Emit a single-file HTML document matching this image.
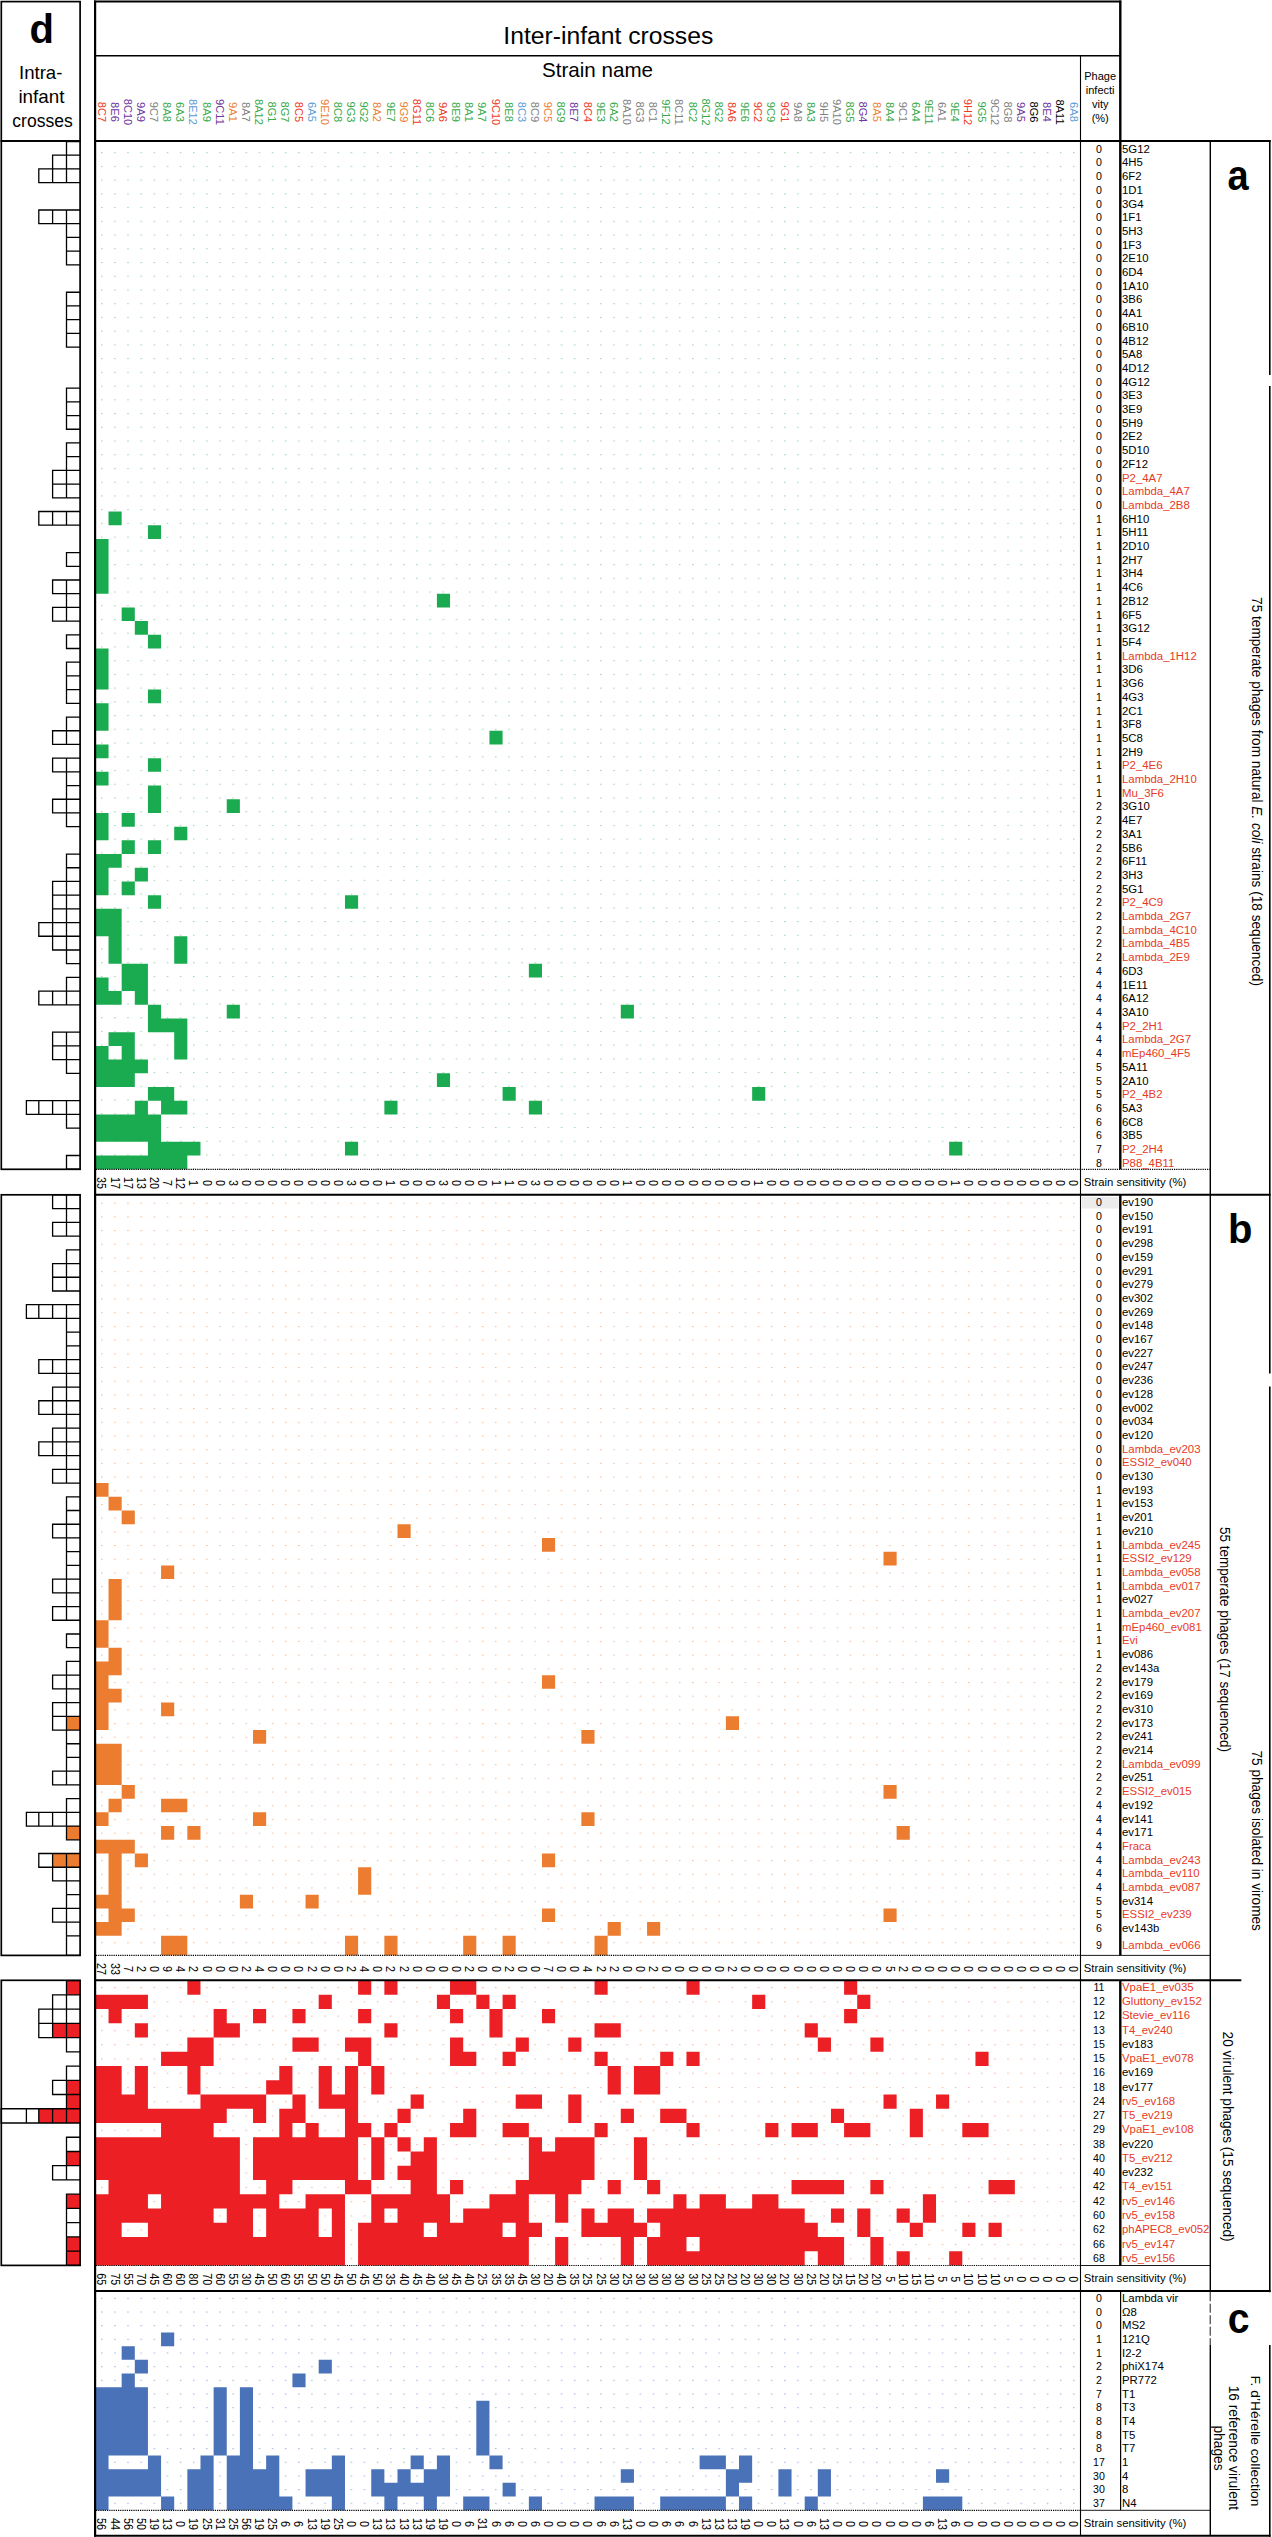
<!DOCTYPE html>
<html><head><meta charset="utf-8"><title>Phage-bacteria interaction matrix</title>
<style>
html,body{margin:0;padding:0;background:#fff}
body{width:1272px;height:2537px;overflow:hidden}
svg{display:block}
text{font-family:"Liberation Sans",sans-serif;fill:#000}
.l{font-size:10.6px}
.r{fill:#e73a24}
.n{font-size:10.6px;text-anchor:middle}
.h{font-size:11.6px;text-anchor:middle}
.s{font-size:12px;text-anchor:middle}
.v{font-size:15px;text-anchor:middle}
.B{font-size:40px;font-weight:bold;text-anchor:middle}
.k{stroke:#000;fill:none}
</style></head><body>
<svg width="1272" height="2537" viewBox="0 0 1272 2537">
<rect width="1272" height="2537" fill="#fff"/>
<defs>
<pattern id="pa" patternUnits="userSpaceOnUse" x="95.4" y="152.15" width="13.135" height="13.730"><rect x="5.87" y="0" width="1.1" height="1.1" fill="#7cc787"/></pattern>
<pattern id="pb" patternUnits="userSpaceOnUse" x="95.4" y="1202.65" width="13.135" height="13.695"><rect x="5.87" y="0" width="1.1" height="1.1" fill="#f2a36e"/></pattern>
<pattern id="pr" patternUnits="userSpaceOnUse" x="95.4" y="1987.05" width="13.135" height="14.270"><rect x="5.87" y="0" width="1.1" height="1.1" fill="#f29b78"/></pattern>
<pattern id="pc" patternUnits="userSpaceOnUse" x="95.4" y="2297.85" width="13.135" height="13.660"><rect x="5.87" y="0" width="1.1" height="1.1" fill="#7f9ddb"/></pattern>
</defs>
<rect x="95.4" y="141.5" width="985.13" height="1027.72" fill="url(#pa)"/>
<path fill="#1aab50" d="M108.54 511.48H121.67V525.18H108.54ZM147.94 525.18H161.07V538.89H147.94ZM95.4 538.89H108.54V552.59H95.4ZM95.4 552.59H108.54V566.29H95.4ZM95.4 566.29H108.54V580H95.4ZM95.4 580H108.54V593.7H95.4ZM436.91 593.7H450.04V607.4H436.91ZM121.67 607.4H134.81V621.11H121.67ZM134.81 621.11H147.94V634.81H134.81ZM147.94 634.81H161.07V648.51H147.94ZM95.4 648.51H108.54V662.21H95.4ZM95.4 662.21H108.54V675.92H95.4ZM95.4 675.92H108.54V689.62H95.4ZM147.94 689.62H161.07V703.32H147.94ZM95.4 703.32H108.54V717.03H95.4ZM95.4 717.03H108.54V730.73H95.4ZM489.45 730.73H502.59V744.43H489.45ZM95.4 744.43H108.54V758.13H95.4ZM147.94 758.13H161.07V771.84H147.94ZM95.4 771.84H108.54V785.54H95.4ZM147.94 785.54H161.07V799.24H147.94ZM147.94 799.24H161.07V812.95H147.94ZM226.75 799.24H239.88V812.95H226.75ZM95.4 812.95H108.54V826.65H95.4ZM121.67 812.95H134.81V826.65H121.67ZM95.4 826.65H108.54V840.35H95.4ZM174.21 826.65H187.34V840.35H174.21ZM121.67 840.35H134.81V854.06H121.67ZM147.94 840.35H161.07V854.06H147.94ZM95.4 854.06H121.67V867.76H95.4ZM95.4 867.76H108.54V881.46H95.4ZM134.81 867.76H147.94V881.46H134.81ZM95.4 881.46H108.54V895.16H95.4ZM121.67 881.46H134.81V895.16H121.67ZM147.94 895.16H161.07V908.87H147.94ZM344.97 895.16H358.1V908.87H344.97ZM95.4 908.87H121.67V922.57H95.4ZM95.4 922.57H121.67V936.27H95.4ZM108.54 936.27H121.67V949.98H108.54ZM174.21 936.27H187.34V949.98H174.21ZM108.54 949.98H121.67V963.68H108.54ZM174.21 949.98H187.34V963.68H174.21ZM121.67 963.68H147.94V977.38H121.67ZM528.86 963.68H541.99V977.38H528.86ZM95.4 977.38H108.54V991.09H95.4ZM121.67 977.38H147.94V991.09H121.67ZM95.4 991.09H121.67V1004.79H95.4ZM134.81 991.09H147.94V1004.79H134.81ZM147.94 1004.79H161.07V1018.49H147.94ZM226.75 1004.79H239.88V1018.49H226.75ZM620.8 1004.79H633.93V1018.49H620.8ZM147.94 1018.49H187.34V1032.19H147.94ZM108.54 1032.19H134.81V1045.9H108.54ZM174.21 1032.19H187.34V1045.9H174.21ZM95.4 1045.9H108.54V1059.6H95.4ZM121.67 1045.9H134.81V1059.6H121.67ZM174.21 1045.9H187.34V1059.6H174.21ZM95.4 1059.6H147.94V1073.3H95.4ZM95.4 1073.3H134.81V1087.01H95.4ZM436.91 1073.3H450.04V1087.01H436.91ZM147.94 1087.01H174.21V1100.71H147.94ZM502.59 1087.01H515.72V1100.71H502.59ZM752.15 1087.01H765.28V1100.71H752.15ZM134.81 1100.71H147.94V1114.41H134.81ZM161.07 1100.71H187.34V1114.41H161.07ZM384.37 1100.71H397.5V1114.41H384.37ZM528.86 1100.71H541.99V1114.41H528.86ZM95.4 1114.41H161.07V1128.12H95.4ZM95.4 1128.12H161.07V1141.82H95.4ZM147.94 1141.82H200.48V1155.52H147.94ZM344.97 1141.82H358.1V1155.52H344.97ZM949.17 1141.82H962.31V1155.52H949.17ZM95.4 1155.52H187.34V1169.22H95.4Z"/>
<rect x="95.4" y="1194.95" width="985.13" height="760.35" fill="url(#pb)"/>
<path fill="#ec7c30" d="M95.4 1483.07H108.54V1496.79H95.4ZM108.54 1496.79H121.67V1510.51H108.54ZM121.67 1510.51H134.81V1524.23H121.67ZM397.5 1524.23H410.64V1537.95H397.5ZM541.99 1537.95H555.12V1551.67H541.99ZM883.5 1551.67H896.63V1565.39H883.5ZM161.07 1565.39H174.21V1579.11H161.07ZM108.54 1579.11H121.67V1592.83H108.54ZM108.54 1592.83H121.67V1606.55H108.54ZM108.54 1606.55H121.67V1620.27H108.54ZM95.4 1620.27H108.54V1633.99H95.4ZM95.4 1633.99H108.54V1647.71H95.4ZM108.54 1647.71H121.67V1661.43H108.54ZM95.4 1661.43H121.67V1675.15H95.4ZM95.4 1675.15H108.54V1688.87H95.4ZM541.99 1675.15H555.12V1688.87H541.99ZM95.4 1688.87H121.67V1702.59H95.4ZM95.4 1702.59H108.54V1716.31H95.4ZM161.07 1702.59H174.21V1716.31H161.07ZM95.4 1716.31H108.54V1730.03H95.4ZM725.88 1716.31H739.01V1730.03H725.88ZM253.02 1730.03H266.15V1743.75H253.02ZM581.39 1730.03H594.53V1743.75H581.39ZM95.4 1743.75H121.67V1757.47H95.4ZM95.4 1757.47H121.67V1771.19H95.4ZM95.4 1771.19H121.67V1784.91H95.4ZM121.67 1784.91H134.81V1798.63H121.67ZM883.5 1784.91H896.63V1798.63H883.5ZM108.54 1798.63H121.67V1812.35H108.54ZM161.07 1798.63H187.34V1812.35H161.07ZM95.4 1812.35H108.54V1826.07H95.4ZM253.02 1812.35H266.15V1826.07H253.02ZM581.39 1812.35H594.53V1826.07H581.39ZM161.07 1826.07H174.21V1839.79H161.07ZM187.34 1826.07H200.48V1839.79H187.34ZM896.63 1826.07H909.77V1839.79H896.63ZM95.4 1839.79H134.81V1853.51H95.4ZM108.54 1853.51H121.67V1867.23H108.54ZM134.81 1853.51H147.94V1867.23H134.81ZM541.99 1853.51H555.12V1867.23H541.99ZM108.54 1867.23H121.67V1880.95H108.54ZM358.1 1867.23H371.24V1880.95H358.1ZM108.54 1880.95H121.67V1894.67H108.54ZM358.1 1880.95H371.24V1894.67H358.1ZM95.4 1894.67H121.67V1908.39H95.4ZM239.88 1894.67H253.02V1908.39H239.88ZM305.56 1894.67H318.69V1908.39H305.56ZM108.54 1908.39H134.81V1922.11H108.54ZM541.99 1908.39H555.12V1922.11H541.99ZM883.5 1908.39H896.63V1922.11H883.5ZM95.4 1922.11H121.67V1935.83H95.4ZM607.66 1922.11H620.8V1935.83H607.66ZM647.07 1922.11H660.2V1935.83H647.07ZM161.07 1935.83H187.34V1955.3H161.07ZM344.97 1935.83H358.1V1955.3H344.97ZM384.37 1935.83H397.5V1955.3H384.37ZM463.18 1935.83H476.32V1955.3H463.18ZM502.59 1935.83H515.72V1955.3H502.59ZM594.53 1935.83H607.66V1955.3H594.53Z"/>
<rect x="95.4" y="1980.6" width="985.13" height="284.8" fill="url(#pr)"/>
<path fill="#ec2024" d="M187.34 1980.6H200.48V1994.84H187.34ZM358.1 1980.6H371.24V1994.84H358.1ZM384.37 1980.6H397.5V1994.84H384.37ZM450.04 1980.6H476.32V1994.84H450.04ZM594.53 1980.6H607.66V1994.84H594.53ZM686.48 1980.6H699.61V1994.84H686.48ZM844.09 1980.6H857.23V1994.84H844.09ZM95.4 1994.84H147.94V2009.08H95.4ZM318.69 1994.84H331.83V2009.08H318.69ZM436.91 1994.84H450.04V2009.08H436.91ZM476.32 1994.84H489.45V2009.08H476.32ZM502.59 1994.84H515.72V2009.08H502.59ZM752.15 1994.84H765.28V2009.08H752.15ZM857.23 1994.84H870.37V2009.08H857.23ZM108.54 2009.08H121.67V2023.32H108.54ZM213.62 2009.08H226.75V2023.32H213.62ZM253.02 2009.08H266.15V2023.32H253.02ZM292.43 2009.08H305.56V2023.32H292.43ZM358.1 2009.08H371.24V2023.32H358.1ZM450.04 2009.08H463.18V2023.32H450.04ZM489.45 2009.08H502.59V2023.32H489.45ZM541.99 2009.08H555.12V2023.32H541.99ZM844.09 2009.08H857.23V2023.32H844.09ZM134.81 2023.32H147.94V2037.56H134.81ZM213.62 2023.32H239.88V2037.56H213.62ZM384.37 2023.32H397.5V2037.56H384.37ZM489.45 2023.32H502.59V2037.56H489.45ZM594.53 2023.32H620.8V2037.56H594.53ZM804.69 2023.32H817.82V2037.56H804.69ZM187.34 2037.56H213.62V2051.8H187.34ZM292.43 2037.56H318.69V2051.8H292.43ZM344.97 2037.56H371.24V2051.8H344.97ZM450.04 2037.56H463.18V2051.8H450.04ZM515.72 2037.56H528.86V2051.8H515.72ZM568.26 2037.56H581.39V2051.8H568.26ZM817.82 2037.56H830.96V2051.8H817.82ZM870.37 2037.56H883.5V2051.8H870.37ZM161.07 2051.8H213.62V2066.04H161.07ZM358.1 2051.8H371.24V2066.04H358.1ZM450.04 2051.8H476.32V2066.04H450.04ZM502.59 2051.8H515.72V2066.04H502.59ZM594.53 2051.8H607.66V2066.04H594.53ZM660.2 2051.8H673.34V2066.04H660.2ZM686.48 2051.8H699.61V2066.04H686.48ZM975.44 2051.8H988.58V2066.04H975.44ZM95.4 2066.04H121.67V2080.28H95.4ZM134.81 2066.04H147.94V2080.28H134.81ZM187.34 2066.04H200.48V2080.28H187.34ZM279.29 2066.04H292.43V2080.28H279.29ZM318.69 2066.04H331.83V2080.28H318.69ZM344.97 2066.04H358.1V2080.28H344.97ZM371.24 2066.04H384.37V2080.28H371.24ZM607.66 2066.04H620.8V2080.28H607.66ZM633.93 2066.04H660.2V2080.28H633.93ZM95.4 2080.28H121.67V2094.52H95.4ZM134.81 2080.28H147.94V2094.52H134.81ZM187.34 2080.28H200.48V2094.52H187.34ZM266.15 2080.28H292.43V2094.52H266.15ZM318.69 2080.28H331.83V2094.52H318.69ZM344.97 2080.28H358.1V2094.52H344.97ZM371.24 2080.28H384.37V2094.52H371.24ZM607.66 2080.28H620.8V2094.52H607.66ZM633.93 2080.28H660.2V2094.52H633.93ZM95.4 2094.52H147.94V2108.76H95.4ZM200.48 2094.52H266.15V2108.76H200.48ZM292.43 2094.52H305.56V2108.76H292.43ZM318.69 2094.52H358.1V2108.76H318.69ZM410.64 2094.52H423.77V2108.76H410.64ZM515.72 2094.52H541.99V2108.76H515.72ZM568.26 2094.52H581.39V2108.76H568.26ZM883.5 2094.52H896.63V2108.76H883.5ZM936.04 2094.52H949.17V2108.76H936.04ZM95.4 2108.76H226.75V2123H95.4ZM253.02 2108.76H266.15V2123H253.02ZM279.29 2108.76H305.56V2123H279.29ZM344.97 2108.76H358.1V2123H344.97ZM397.5 2108.76H410.64V2123H397.5ZM463.18 2108.76H476.32V2123H463.18ZM568.26 2108.76H581.39V2123H568.26ZM620.8 2108.76H633.93V2123H620.8ZM660.2 2108.76H686.48V2123H660.2ZM830.96 2108.76H844.09V2123H830.96ZM909.77 2108.76H922.9V2123H909.77ZM161.07 2123H213.62V2137.24H161.07ZM279.29 2123H292.43V2137.24H279.29ZM305.56 2123H318.69V2137.24H305.56ZM344.97 2123H371.24V2137.24H344.97ZM384.37 2123H397.5V2137.24H384.37ZM450.04 2123H476.32V2137.24H450.04ZM502.59 2123H528.86V2137.24H502.59ZM594.53 2123H607.66V2137.24H594.53ZM686.48 2123H699.61V2137.24H686.48ZM765.28 2123H778.42V2137.24H765.28ZM791.55 2123H817.82V2137.24H791.55ZM844.09 2123H870.37V2137.24H844.09ZM909.77 2123H922.9V2137.24H909.77ZM962.31 2123H988.58V2137.24H962.31ZM95.4 2137.24H239.88V2151.48H95.4ZM253.02 2137.24H358.1V2151.48H253.02ZM371.24 2137.24H384.37V2151.48H371.24ZM397.5 2137.24H410.64V2151.48H397.5ZM423.77 2137.24H436.91V2151.48H423.77ZM528.86 2137.24H541.99V2151.48H528.86ZM555.12 2137.24H594.53V2151.48H555.12ZM633.93 2137.24H647.07V2151.48H633.93ZM95.4 2151.48H239.88V2165.72H95.4ZM253.02 2151.48H358.1V2165.72H253.02ZM371.24 2151.48H384.37V2165.72H371.24ZM410.64 2151.48H436.91V2165.72H410.64ZM528.86 2151.48H594.53V2165.72H528.86ZM633.93 2151.48H647.07V2165.72H633.93ZM95.4 2165.72H239.88V2179.96H95.4ZM253.02 2165.72H358.1V2179.96H253.02ZM371.24 2165.72H384.37V2179.96H371.24ZM397.5 2165.72H436.91V2179.96H397.5ZM528.86 2165.72H594.53V2179.96H528.86ZM633.93 2165.72H647.07V2179.96H633.93ZM108.54 2179.96H239.88V2194.2H108.54ZM266.15 2179.96H292.43V2194.2H266.15ZM344.97 2179.96H371.24V2194.2H344.97ZM410.64 2179.96H436.91V2194.2H410.64ZM450.04 2179.96H463.18V2194.2H450.04ZM515.72 2179.96H581.39V2194.2H515.72ZM607.66 2179.96H620.8V2194.2H607.66ZM647.07 2179.96H660.2V2194.2H647.07ZM791.55 2179.96H844.09V2194.2H791.55ZM870.37 2179.96H883.5V2194.2H870.37ZM988.58 2179.96H1014.85V2194.2H988.58ZM95.4 2194.2H147.94V2208.44H95.4ZM161.07 2194.2H279.29V2208.44H161.07ZM305.56 2194.2H344.97V2208.44H305.56ZM371.24 2194.2H450.04V2208.44H371.24ZM489.45 2194.2H528.86V2208.44H489.45ZM555.12 2194.2H568.26V2208.44H555.12ZM673.34 2194.2H686.48V2208.44H673.34ZM699.61 2194.2H725.88V2208.44H699.61ZM752.15 2194.2H778.42V2208.44H752.15ZM922.9 2194.2H936.04V2208.44H922.9ZM95.4 2208.44H213.62V2222.68H95.4ZM226.75 2208.44H253.02V2222.68H226.75ZM266.15 2208.44H318.69V2222.68H266.15ZM331.83 2208.44H344.97V2222.68H331.83ZM371.24 2208.44H384.37V2222.68H371.24ZM397.5 2208.44H450.04V2222.68H397.5ZM463.18 2208.44H528.86V2222.68H463.18ZM555.12 2208.44H568.26V2222.68H555.12ZM581.39 2208.44H594.53V2222.68H581.39ZM607.66 2208.44H633.93V2222.68H607.66ZM647.07 2208.44H804.69V2222.68H647.07ZM830.96 2208.44H844.09V2222.68H830.96ZM857.23 2208.44H870.37V2222.68H857.23ZM896.63 2208.44H909.77V2222.68H896.63ZM922.9 2208.44H936.04V2222.68H922.9ZM95.4 2222.68H121.67V2236.92H95.4ZM147.94 2222.68H253.02V2236.92H147.94ZM266.15 2222.68H318.69V2236.92H266.15ZM331.83 2222.68H344.97V2236.92H331.83ZM358.1 2222.68H423.77V2236.92H358.1ZM436.91 2222.68H502.59V2236.92H436.91ZM515.72 2222.68H541.99V2236.92H515.72ZM581.39 2222.68H647.07V2236.92H581.39ZM660.2 2222.68H817.82V2236.92H660.2ZM857.23 2222.68H870.37V2236.92H857.23ZM909.77 2222.68H922.9V2236.92H909.77ZM962.31 2222.68H975.44V2236.92H962.31ZM988.58 2222.68H1001.71V2236.92H988.58ZM95.4 2236.92H344.97V2251.16H95.4ZM358.1 2236.92H528.86V2251.16H358.1ZM555.12 2236.92H568.26V2251.16H555.12ZM620.8 2236.92H633.93V2251.16H620.8ZM647.07 2236.92H686.48V2251.16H647.07ZM699.61 2236.92H844.09V2251.16H699.61ZM870.37 2236.92H883.5V2251.16H870.37ZM95.4 2251.16H344.97V2265.4H95.4ZM358.1 2251.16H528.86V2265.4H358.1ZM555.12 2251.16H568.26V2265.4H555.12ZM620.8 2251.16H633.93V2265.4H620.8ZM647.07 2251.16H804.69V2265.4H647.07ZM817.82 2251.16H844.09V2265.4H817.82ZM870.37 2251.16H883.5V2265.4H870.37ZM896.63 2251.16H909.77V2265.4H896.63ZM949.17 2251.16H962.31V2265.4H949.17Z"/>
<rect x="95.4" y="2291.5" width="985.13" height="218.64" fill="url(#pc)"/>
<path fill="#4a72b8" d="M161.07 2332.49H174.21V2346.16H161.07ZM121.67 2346.16H134.81V2359.82H121.67ZM134.81 2359.82H147.94V2373.49H134.81ZM318.69 2359.82H331.83V2373.49H318.69ZM121.67 2373.49H134.81V2387.16H121.67ZM292.43 2373.49H305.56V2387.16H292.43ZM95.4 2387.16H147.94V2400.82H95.4ZM213.62 2387.16H226.75V2400.82H213.62ZM239.88 2387.16H253.02V2400.82H239.88ZM95.4 2400.82H147.94V2414.49H95.4ZM213.62 2400.82H226.75V2414.49H213.62ZM239.88 2400.82H253.02V2414.49H239.88ZM476.32 2400.82H489.45V2414.49H476.32ZM95.4 2414.49H147.94V2428.15H95.4ZM213.62 2414.49H226.75V2428.15H213.62ZM239.88 2414.49H253.02V2428.15H239.88ZM476.32 2414.49H489.45V2428.15H476.32ZM95.4 2428.15H147.94V2441.82H95.4ZM213.62 2428.15H226.75V2441.82H213.62ZM239.88 2428.15H253.02V2441.82H239.88ZM476.32 2428.15H489.45V2441.82H476.32ZM95.4 2441.82H147.94V2455.48H95.4ZM213.62 2441.82H226.75V2455.48H213.62ZM239.88 2441.82H253.02V2455.48H239.88ZM476.32 2441.82H489.45V2455.48H476.32ZM95.4 2455.48H108.54V2469.14H95.4ZM147.94 2455.48H161.07V2469.14H147.94ZM200.48 2455.48H213.62V2469.14H200.48ZM226.75 2455.48H253.02V2469.14H226.75ZM266.15 2455.48H279.29V2469.14H266.15ZM331.83 2455.48H344.97V2469.14H331.83ZM410.64 2455.48H423.77V2469.14H410.64ZM436.91 2455.48H450.04V2469.14H436.91ZM489.45 2455.48H502.59V2469.14H489.45ZM699.61 2455.48H725.88V2469.14H699.61ZM739.01 2455.48H752.15V2469.14H739.01ZM95.4 2469.14H161.07V2482.81H95.4ZM187.34 2469.14H213.62V2482.81H187.34ZM226.75 2469.14H279.29V2482.81H226.75ZM305.56 2469.14H344.97V2482.81H305.56ZM371.24 2469.14H384.37V2482.81H371.24ZM397.5 2469.14H410.64V2482.81H397.5ZM423.77 2469.14H450.04V2482.81H423.77ZM620.8 2469.14H633.93V2482.81H620.8ZM725.88 2469.14H752.15V2482.81H725.88ZM778.42 2469.14H791.55V2482.81H778.42ZM817.82 2469.14H830.96V2482.81H817.82ZM936.04 2469.14H949.17V2482.81H936.04ZM95.4 2482.81H161.07V2496.47H95.4ZM187.34 2482.81H213.62V2496.47H187.34ZM226.75 2482.81H279.29V2496.47H226.75ZM305.56 2482.81H344.97V2496.47H305.56ZM371.24 2482.81H450.04V2496.47H371.24ZM502.59 2482.81H515.72V2496.47H502.59ZM725.88 2482.81H739.01V2496.47H725.88ZM778.42 2482.81H791.55V2496.47H778.42ZM817.82 2482.81H830.96V2496.47H817.82ZM95.4 2496.47H108.54V2510.14H95.4ZM161.07 2496.47H174.21V2510.14H161.07ZM187.34 2496.47H213.62V2510.14H187.34ZM226.75 2496.47H292.43V2510.14H226.75ZM331.83 2496.47H344.97V2510.14H331.83ZM384.37 2496.47H397.5V2510.14H384.37ZM423.77 2496.47H436.91V2510.14H423.77ZM463.18 2496.47H489.45V2510.14H463.18ZM528.86 2496.47H541.99V2510.14H528.86ZM594.53 2496.47H633.93V2510.14H594.53ZM660.2 2496.47H725.88V2510.14H660.2ZM739.01 2496.47H752.15V2510.14H739.01ZM804.69 2496.47H817.82V2510.14H804.69ZM922.9 2496.47H962.31V2510.14H922.9Z"/>
<path class="k" stroke-width="1.3" d="M80.1 141.5H66.5V155.2H80.1M80.1 155.2H52.6V168.91H80.1M66.5 155.2V168.91M80.1 168.91H38.8V182.61H80.1M66.5 168.91V182.61M52.6 168.91V182.61M80.1 210.01H38.8V223.72H80.1M66.5 210.01V223.72M52.6 210.01V223.72M80.1 223.72H66.5V237.42H80.1M80.1 237.42H66.5V251.12H80.1M80.1 251.12H66.5V264.83H80.1M80.1 292.23H66.5V305.94H80.1M80.1 305.94H66.5V319.64H80.1M80.1 319.64H66.5V333.34H80.1M80.1 333.34H66.5V347.04H80.1M80.1 388.15H66.5V401.86H80.1M80.1 401.86H66.5V415.56H80.1M80.1 415.56H66.5V429.26H80.1M80.1 442.97H66.5V456.67H80.1M80.1 456.67H66.5V470.37H80.1M80.1 470.37H52.6V484.07H80.1M66.5 470.37V484.07M80.1 484.07H52.6V497.78H80.1M66.5 484.07V497.78M80.1 511.48H38.8V525.18H80.1M66.5 511.48V525.18M52.6 511.48V525.18M80.1 552.59H66.5V566.29H80.1M80.1 580H52.6V593.7H80.1M66.5 580V593.7M80.1 593.7H66.5V607.4H80.1M80.1 607.4H52.6V621.11H80.1M66.5 607.4V621.11M80.1 634.81H66.5V648.51H80.1M80.1 662.21H66.5V675.92H80.1M80.1 675.92H66.5V689.62H80.1M80.1 689.62H66.5V703.32H80.1M80.1 717.03H66.5V730.73H80.1M80.1 730.73H52.6V744.43H80.1M66.5 730.73V744.43M80.1 758.13H52.6V771.84H80.1M66.5 758.13V771.84M80.1 771.84H66.5V785.54H80.1M80.1 785.54H66.5V799.24H80.1M80.1 799.24H52.6V812.95H80.1M66.5 799.24V812.95M80.1 812.95H66.5V826.65H80.1M80.1 854.06H66.5V867.76H80.1M80.1 867.76H66.5V881.46H80.1M80.1 881.46H52.6V895.16H80.1M66.5 881.46V895.16M80.1 895.16H52.6V908.87H80.1M66.5 895.16V908.87M80.1 908.87H52.6V922.57H80.1M66.5 908.87V922.57M80.1 922.57H38.8V936.27H80.1M66.5 922.57V936.27M52.6 922.57V936.27M80.1 936.27H52.6V949.98H80.1M66.5 936.27V949.98M80.1 949.98H66.5V963.68H80.1M80.1 977.38H66.5V991.09H80.1M80.1 991.09H38.8V1004.79H80.1M66.5 991.09V1004.79M52.6 991.09V1004.79M80.1 1032.19H52.6V1045.9H80.1M66.5 1032.19V1045.9M80.1 1045.9H52.6V1059.6H80.1M66.5 1045.9V1059.6M80.1 1059.6H66.5V1073.3H80.1M80.1 1100.71H26.4V1114.41H80.1M66.5 1100.71V1114.41M52.6 1100.71V1114.41M38.8 1100.71V1114.41M80.1 1114.41H66.5V1128.12H80.1M80.1 1155.52H66.5V1169.22H80.1"/>
<path fill="#ec7c30" d="M66.5 1716.31H80.1V1730.03H66.5ZM66.5 1826.07H80.1V1839.79H66.5ZM66.5 1853.51H80.1V1867.23H66.5ZM52.6 1853.51H66.5V1867.23H52.6Z"/>
<path class="k" stroke-width="1.3" d="M80.1 1194.95H52.6V1208.67H80.1M66.5 1194.95V1208.67M80.1 1208.67H66.5V1222.39H80.1M80.1 1222.39H52.6V1236.11H80.1M66.5 1222.39V1236.11M80.1 1249.83H66.5V1263.55H80.1M80.1 1263.55H52.6V1277.27H80.1M66.5 1263.55V1277.27M80.1 1277.27H52.6V1290.99H80.1M66.5 1277.27V1290.99M80.1 1304.71H26.4V1318.43H80.1M66.5 1304.71V1318.43M52.6 1304.71V1318.43M38.8 1304.71V1318.43M80.1 1318.43H66.5V1332.15H80.1M80.1 1332.15H66.5V1345.87H80.1M80.1 1345.87H66.5V1359.59H80.1M80.1 1359.59H38.8V1373.31H80.1M66.5 1359.59V1373.31M52.6 1359.59V1373.31M80.1 1373.31H66.5V1387.03H80.1M80.1 1387.03H52.6V1400.75H80.1M66.5 1387.03V1400.75M80.1 1400.75H38.8V1414.47H80.1M66.5 1400.75V1414.47M52.6 1400.75V1414.47M80.1 1414.47H66.5V1428.19H80.1M80.1 1428.19H52.6V1441.91H80.1M66.5 1428.19V1441.91M80.1 1441.91H38.8V1455.63H80.1M66.5 1441.91V1455.63M52.6 1441.91V1455.63M80.1 1455.63H66.5V1469.35H80.1M80.1 1469.35H52.6V1483.07H80.1M66.5 1469.35V1483.07M80.1 1496.79H66.5V1510.51H80.1M80.1 1510.51H66.5V1524.23H80.1M80.1 1524.23H52.6V1537.95H80.1M66.5 1524.23V1537.95M80.1 1537.95H66.5V1551.67H80.1M80.1 1551.67H66.5V1565.39H80.1M80.1 1565.39H66.5V1579.11H80.1M80.1 1579.11H52.6V1592.83H80.1M66.5 1579.11V1592.83M80.1 1592.83H66.5V1606.55H80.1M80.1 1606.55H52.6V1620.27H80.1M66.5 1606.55V1620.27M80.1 1633.99H66.5V1647.71H80.1M80.1 1661.43H66.5V1675.15H80.1M80.1 1675.15H52.6V1688.87H80.1M66.5 1675.15V1688.87M80.1 1688.87H66.5V1702.59H80.1M80.1 1702.59H52.6V1716.31H80.1M66.5 1702.59V1716.31M80.1 1716.31H52.6V1730.03H80.1M66.5 1716.31V1730.03M80.1 1730.03H66.5V1743.75H80.1M80.1 1743.75H66.5V1757.47H80.1M80.1 1757.47H66.5V1771.19H80.1M80.1 1771.19H52.6V1784.91H80.1M66.5 1771.19V1784.91M80.1 1798.63H66.5V1812.35H80.1M80.1 1812.35H26.4V1826.07H80.1M66.5 1812.35V1826.07M52.6 1812.35V1826.07M38.8 1812.35V1826.07M80.1 1826.07H66.5V1839.79H80.1M80.1 1853.51H38.8V1867.23H80.1M66.5 1853.51V1867.23M52.6 1853.51V1867.23M80.1 1867.23H52.6V1880.95H80.1M66.5 1867.23V1880.95M80.1 1880.95H66.5V1894.67H80.1M80.1 1894.67H66.5V1908.39H80.1M80.1 1908.39H52.6V1922.11H80.1M66.5 1908.39V1922.11M80.1 1922.11H66.5V1935.83H80.1M80.1 1935.83H66.5V1955.3H80.1"/>
<path fill="#ec2024" d="M66.5 1980.6H80.1V1994.84H66.5ZM66.5 2023.32H80.1V2037.56H66.5ZM52.6 2023.32H66.5V2037.56H52.6ZM66.5 2080.28H80.1V2094.52H66.5ZM66.5 2094.52H80.1V2108.76H66.5ZM66.5 2108.76H80.1V2123H66.5ZM52.6 2108.76H66.5V2123H52.6ZM38.8 2108.76H52.6V2123H38.8ZM66.5 2151.48H80.1V2165.72H66.5ZM66.5 2194.2H80.1V2208.44H66.5ZM66.5 2236.92H80.1V2251.16H66.5ZM66.5 2251.16H80.1V2265.4H66.5Z"/>
<path class="k" stroke-width="1.3" d="M80.1 1980.6H66.5V1994.84H80.1M80.1 1994.84H52.6V2009.08H80.1M66.5 1994.84V2009.08M80.1 2009.08H38.8V2023.32H80.1M66.5 2009.08V2023.32M52.6 2009.08V2023.32M80.1 2023.32H38.8V2037.56H80.1M66.5 2023.32V2037.56M52.6 2023.32V2037.56M80.1 2037.56H66.5V2051.8H80.1M80.1 2066.04H66.5V2080.28H80.1M80.1 2080.28H52.6V2094.52H80.1M66.5 2080.28V2094.52M80.1 2094.52H66.5V2108.76H80.1M80.1 2108.76H1.2V2123H80.1M66.5 2108.76V2123M52.6 2108.76V2123M38.8 2108.76V2123M26.4 2108.76V2123M80.1 2137.24H66.5V2151.48H80.1M80.1 2151.48H66.5V2165.72H80.1M80.1 2165.72H52.6V2179.96H80.1M66.5 2165.72V2179.96M80.1 2194.2H66.5V2208.44H80.1M80.1 2208.44H66.5V2222.68H80.1M80.1 2222.68H66.5V2236.92H80.1M80.1 2236.92H66.5V2251.16H80.1M80.1 2251.16H66.5V2265.4H80.1"/>
<rect class="k" stroke-width="1.7" x="1.3" y="1.6" width="78.8" height="139.4"/>
<rect class="k" stroke-width="1.7" x="1.3" y="141" width="78.8" height="1028.3"/>
<rect class="k" stroke-width="1.7" x="1.3" y="1194.8" width="78.8" height="760.6"/>
<rect class="k" stroke-width="1.7" x="1.3" y="1980.3" width="78.8" height="285.1"/>
<path class="k" stroke-width="2.2" d="M95.1 0.6L95.1 2536.8"/>
<path class="k" stroke-width="1.1" d="M1080.5 55.7L1080.5 2536"/>
<path class="k" stroke-width="2.4" d="M1120.3 0.6L1120.3 1169.2"/>
<path class="k" stroke-width="2.4" d="M1120.3 1194.8L1120.3 1955.3"/>
<path class="k" stroke-width="2.4" d="M1120.3 1980.3L1120.3 2265.4"/>
<path class="k" stroke-width="1.2" d="M1120.6 2291L1120.6 2510.2"/>
<path class="k" stroke-width="1.4" d="M1210.3 141L1210.3 2536"/>
<path class="k" stroke-width="1.6" d="M1269.8 140L1269.8 2536.8"/>
<path class="k" stroke-width="2" d="M94.2 1.6L1121.2 1.6"/>
<path class="k" stroke-width="1.6" d="M95 55.7L1120 55.7"/>
<path class="k" stroke-width="2" d="M95 141L1270.6 141"/>
<path class="k" stroke-width="2" d="M95 1194.8L1270.6 1194.8"/>
<path class="k" stroke-width="2" d="M95 1980.3L1241.3 1980.3"/>
<path class="k" stroke-width="2" d="M95 2291L1270.6 2291"/>
<path class="k" stroke-width="2" d="M94.2 2535.8L1270.6 2535.8"/>
<path class="k" stroke-width="1.2" d="M96 1169.3L1210.3 1169.3" stroke-dasharray="1.2 1"/>
<path class="k" stroke-width="1.2" d="M96 1955.4L1080.5 1955.4" stroke-dasharray="1.2 1"/>
<path class="k" stroke-width="0.9" d="M1080.5 1955.4L1210.3 1955.4"/>
<path class="k" stroke-width="1.2" d="M96 2265.5L1080.5 2265.5" stroke-dasharray="1.2 1"/>
<path class="k" stroke-width="0.9" d="M1080.5 2265.5L1210.3 2265.5"/>
<path class="k" stroke-width="1.2" d="M96 2510.3L1080.5 2510.3" stroke-dasharray="1.2 1"/>
<path class="k" stroke-width="0.9" d="M1080.5 2510.3L1210.3 2510.3"/>
<rect x="1268" y="375" width="4" height="11" fill="#fff"/>
<rect x="1268" y="1373.5" width="4" height="13" fill="#fff"/>
<rect x="1268" y="2292.2" width="4" height="52.8" fill="#fff"/>
<rect x="1209" y="2292.2" width="2.6" height="52.8" fill="#fff"/>
<path class="k" stroke-width="0.9" stroke-dasharray="9 2.5" d="M1210.2 2292.2V2345"/>
<rect x="1082" y="1197" width="36.5" height="11.5" fill="#ececec"/>
<text class="B" x="41.8" y="42.8">d</text>
<text transform="translate(40.7 78.5) scale(1.064 1)" font-size="17.5" text-anchor="middle">Intra-</text>
<text transform="translate(41.5 103) scale(1.078 1)" font-size="17.5" text-anchor="middle">infant</text>
<text x="42.5" y="127" font-size="17.5" text-anchor="middle">crosses</text>
<text x="608.3" y="44" font-size="24.7" text-anchor="middle">Inter-infant crosses</text>
<text x="597.5" y="76.8" font-size="20.6" text-anchor="middle">Strain name</text>
<text x="1100.2" y="79.7" font-size="11" text-anchor="middle">Phage</text>
<text x="1100.2" y="93.7" font-size="11" text-anchor="middle">infecti</text>
<text x="1100.2" y="107.7" font-size="11" text-anchor="middle">vity</text>
<text x="1100.2" y="121.7" font-size="11" text-anchor="middle">(%)</text>
<text class="h" transform="translate(101.72 112) rotate(90) scale(.96 1)" y="4.15" style="fill:#ee3a24">8C7</text>
<text class="h" transform="translate(114.85 112) rotate(90) scale(.96 1)" y="4.15" style="fill:#6b35a0">8E6</text>
<text class="h" transform="translate(127.99 112) rotate(90) scale(.96 1)" y="4.15" style="fill:#6b35a0">8C10</text>
<text class="h" transform="translate(141.12 112) rotate(90) scale(.96 1)" y="4.15" style="fill:#6b35a0">9A9</text>
<text class="h" transform="translate(154.26 112) rotate(90) scale(.96 1)" y="4.15" style="fill:#7f7f7f">9C7</text>
<text class="h" transform="translate(167.39 112) rotate(90) scale(.96 1)" y="4.15" style="fill:#36a94a">8A8</text>
<text class="h" transform="translate(180.53 112) rotate(90) scale(.96 1)" y="4.15" style="fill:#36a94a">6A3</text>
<text class="h" transform="translate(193.66 112) rotate(90) scale(.96 1)" y="4.15" style="fill:#5b9bd5">8E12</text>
<text class="h" transform="translate(206.8 112) rotate(90) scale(.96 1)" y="4.15" style="fill:#36a94a">8A9</text>
<text class="h" transform="translate(219.93 112) rotate(90) scale(.96 1)" y="4.15" style="fill:#6b35a0">9C11</text>
<text class="h" transform="translate(233.07 112) rotate(90) scale(.96 1)" y="4.15" style="fill:#ed7d31">9A1</text>
<text class="h" transform="translate(246.2 112) rotate(90) scale(.96 1)" y="4.15" style="fill:#7f7f7f">8A7</text>
<text class="h" transform="translate(259.34 112) rotate(90) scale(.96 1)" y="4.15" style="fill:#36a94a">8A12</text>
<text class="h" transform="translate(272.47 112) rotate(90) scale(.96 1)" y="4.15" style="fill:#36a94a">8G1</text>
<text class="h" transform="translate(285.61 112) rotate(90) scale(.96 1)" y="4.15" style="fill:#36a94a">8G7</text>
<text class="h" transform="translate(298.74 112) rotate(90) scale(.96 1)" y="4.15" style="fill:#ee3a24">8C5</text>
<text class="h" transform="translate(311.88 112) rotate(90) scale(.96 1)" y="4.15" style="fill:#5b9bd5">6A5</text>
<text class="h" transform="translate(325.01 112) rotate(90) scale(.96 1)" y="4.15" style="fill:#ed7d31">9E10</text>
<text class="h" transform="translate(338.15 112) rotate(90) scale(.96 1)" y="4.15" style="fill:#36a94a">8C8</text>
<text class="h" transform="translate(351.28 112) rotate(90) scale(.96 1)" y="4.15" style="fill:#36a94a">9G3</text>
<text class="h" transform="translate(364.42 112) rotate(90) scale(.96 1)" y="4.15" style="fill:#36a94a">9G2</text>
<text class="h" transform="translate(377.55 112) rotate(90) scale(.96 1)" y="4.15" style="fill:#ed7d31">8A2</text>
<text class="h" transform="translate(390.69 112) rotate(90) scale(.96 1)" y="4.15" style="fill:#36a94a">9E7</text>
<text class="h" transform="translate(403.82 112) rotate(90) scale(.96 1)" y="4.15" style="fill:#ed7d31">9G9</text>
<text class="h" transform="translate(416.96 112) rotate(90) scale(.96 1)" y="4.15" style="fill:#ee3a24">8G11</text>
<text class="h" transform="translate(430.09 112) rotate(90) scale(.96 1)" y="4.15" style="fill:#36a94a">8C6</text>
<text class="h" transform="translate(443.23 112) rotate(90) scale(.96 1)" y="4.15" style="fill:#ee3a24">9A6</text>
<text class="h" transform="translate(456.36 112) rotate(90) scale(.96 1)" y="4.15" style="fill:#36a94a">8E9</text>
<text class="h" transform="translate(469.5 112) rotate(90) scale(.96 1)" y="4.15" style="fill:#36a94a">8A1</text>
<text class="h" transform="translate(482.63 112) rotate(90) scale(.96 1)" y="4.15" style="fill:#36a94a">9A7</text>
<text class="h" transform="translate(495.77 112) rotate(90) scale(.96 1)" y="4.15" style="fill:#ee3a24">9C10</text>
<text class="h" transform="translate(508.9 112) rotate(90) scale(.96 1)" y="4.15" style="fill:#36a94a">8E8</text>
<text class="h" transform="translate(522.04 112) rotate(90) scale(.96 1)" y="4.15" style="fill:#5b9bd5">8C3</text>
<text class="h" transform="translate(535.17 112) rotate(90) scale(.96 1)" y="4.15" style="fill:#7f7f7f">8C9</text>
<text class="h" transform="translate(548.31 112) rotate(90) scale(.96 1)" y="4.15" style="fill:#ed7d31">9C5</text>
<text class="h" transform="translate(561.44 112) rotate(90) scale(.96 1)" y="4.15" style="fill:#36a94a">8G9</text>
<text class="h" transform="translate(574.58 112) rotate(90) scale(.96 1)" y="4.15" style="fill:#6b35a0">8E7</text>
<text class="h" transform="translate(587.71 112) rotate(90) scale(.96 1)" y="4.15" style="fill:#ee3a24">8C4</text>
<text class="h" transform="translate(600.85 112) rotate(90) scale(.96 1)" y="4.15" style="fill:#36a94a">9E3</text>
<text class="h" transform="translate(613.98 112) rotate(90) scale(.96 1)" y="4.15" style="fill:#36a94a">6A2</text>
<text class="h" transform="translate(627.12 112) rotate(90) scale(.96 1)" y="4.15" style="fill:#7f7f7f">8A10</text>
<text class="h" transform="translate(640.25 112) rotate(90) scale(.96 1)" y="4.15" style="fill:#7f7f7f">8G3</text>
<text class="h" transform="translate(653.39 112) rotate(90) scale(.96 1)" y="4.15" style="fill:#7f7f7f">8C1</text>
<text class="h" transform="translate(666.52 112) rotate(90) scale(.96 1)" y="4.15" style="fill:#36a94a">9F12</text>
<text class="h" transform="translate(679.66 112) rotate(90) scale(.96 1)" y="4.15" style="fill:#7f7f7f">8C11</text>
<text class="h" transform="translate(692.79 112) rotate(90) scale(.96 1)" y="4.15" style="fill:#36a94a">8C2</text>
<text class="h" transform="translate(705.93 112) rotate(90) scale(.96 1)" y="4.15" style="fill:#36a94a">8G12</text>
<text class="h" transform="translate(719.06 112) rotate(90) scale(.96 1)" y="4.15" style="fill:#36a94a">8G2</text>
<text class="h" transform="translate(732.2 112) rotate(90) scale(.96 1)" y="4.15" style="fill:#ee3a24">8A6</text>
<text class="h" transform="translate(745.33 112) rotate(90) scale(.96 1)" y="4.15" style="fill:#36a94a">9E6</text>
<text class="h" transform="translate(758.47 112) rotate(90) scale(.96 1)" y="4.15" style="fill:#ee3a24">9C2</text>
<text class="h" transform="translate(771.6 112) rotate(90) scale(.96 1)" y="4.15" style="fill:#36a94a">9C9</text>
<text class="h" transform="translate(784.74 112) rotate(90) scale(.96 1)" y="4.15" style="fill:#ee3a24">9G1</text>
<text class="h" transform="translate(797.87 112) rotate(90) scale(.96 1)" y="4.15" style="fill:#7f7f7f">9A8</text>
<text class="h" transform="translate(811.01 112) rotate(90) scale(.96 1)" y="4.15" style="fill:#36a94a">8A3</text>
<text class="h" transform="translate(824.14 112) rotate(90) scale(.96 1)" y="4.15" style="fill:#7f7f7f">9H5</text>
<text class="h" transform="translate(837.28 112) rotate(90) scale(.96 1)" y="4.15" style="fill:#7f7f7f">9A10</text>
<text class="h" transform="translate(850.41 112) rotate(90) scale(.96 1)" y="4.15" style="fill:#36a94a">8G5</text>
<text class="h" transform="translate(863.55 112) rotate(90) scale(.96 1)" y="4.15" style="fill:#6b35a0">8G4</text>
<text class="h" transform="translate(876.68 112) rotate(90) scale(.96 1)" y="4.15" style="fill:#ed7d31">8A5</text>
<text class="h" transform="translate(889.82 112) rotate(90) scale(.96 1)" y="4.15" style="fill:#36a94a">8A4</text>
<text class="h" transform="translate(902.95 112) rotate(90) scale(.96 1)" y="4.15" style="fill:#7f7f7f">9C1</text>
<text class="h" transform="translate(916.09 112) rotate(90) scale(.96 1)" y="4.15" style="fill:#36a94a">6A4</text>
<text class="h" transform="translate(929.22 112) rotate(90) scale(.96 1)" y="4.15" style="fill:#36a94a">9E11</text>
<text class="h" transform="translate(942.36 112) rotate(90) scale(.96 1)" y="4.15" style="fill:#7f7f7f">6A1</text>
<text class="h" transform="translate(955.49 112) rotate(90) scale(.96 1)" y="4.15" style="fill:#36a94a">9E4</text>
<text class="h" transform="translate(968.63 112) rotate(90) scale(.96 1)" y="4.15" style="fill:#ee3a24">9H12</text>
<text class="h" transform="translate(981.76 112) rotate(90) scale(.96 1)" y="4.15" style="fill:#36a94a">9G5</text>
<text class="h" transform="translate(994.9 112) rotate(90) scale(.96 1)" y="4.15" style="fill:#7f7f7f">9C12</text>
<text class="h" transform="translate(1008.03 112) rotate(90) scale(.96 1)" y="4.15" style="fill:#7f7f7f">8G8</text>
<text class="h" transform="translate(1021.17 112) rotate(90) scale(.96 1)" y="4.15" style="fill:#6b35a0">9A5</text>
<text class="h" transform="translate(1034.3 112) rotate(90) scale(.96 1)" y="4.15" style="fill:#000">8G6</text>
<text class="h" transform="translate(1047.44 112) rotate(90) scale(.96 1)" y="4.15" style="fill:#6b35a0">8E4</text>
<text class="h" transform="translate(1060.57 112) rotate(90) scale(.96 1)" y="4.15" style="fill:#000">8A11</text>
<text class="h" transform="translate(1073.71 112) rotate(90) scale(.96 1)" y="4.15" style="fill:#5b9bd5">6A8</text>
<g>
<text class="n" x="1099" y="152.7">0</text>
<text class="l" transform="translate(1122 152.7) scale(1.075 1)">5G12</text>
<text class="n" x="1099" y="166.4">0</text>
<text class="l" transform="translate(1122 166.4) scale(1.075 1)">4H5</text>
<text class="n" x="1099" y="180.11">0</text>
<text class="l" transform="translate(1122 180.11) scale(1.075 1)">6F2</text>
<text class="n" x="1099" y="193.81">0</text>
<text class="l" transform="translate(1122 193.81) scale(1.075 1)">1D1</text>
<text class="n" x="1099" y="207.51">0</text>
<text class="l" transform="translate(1122 207.51) scale(1.075 1)">3G4</text>
<text class="n" x="1099" y="221.21">0</text>
<text class="l" transform="translate(1122 221.21) scale(1.075 1)">1F1</text>
<text class="n" x="1099" y="234.92">0</text>
<text class="l" transform="translate(1122 234.92) scale(1.075 1)">5H3</text>
<text class="n" x="1099" y="248.62">0</text>
<text class="l" transform="translate(1122 248.62) scale(1.075 1)">1F3</text>
<text class="n" x="1099" y="262.32">0</text>
<text class="l" transform="translate(1122 262.32) scale(1.075 1)">2E10</text>
<text class="n" x="1099" y="276.03">0</text>
<text class="l" transform="translate(1122 276.03) scale(1.075 1)">6D4</text>
<text class="n" x="1099" y="289.73">0</text>
<text class="l" transform="translate(1122 289.73) scale(1.075 1)">1A10</text>
<text class="n" x="1099" y="303.43">0</text>
<text class="l" transform="translate(1122 303.43) scale(1.075 1)">3B6</text>
<text class="n" x="1099" y="317.14">0</text>
<text class="l" transform="translate(1122 317.14) scale(1.075 1)">4A1</text>
<text class="n" x="1099" y="330.84">0</text>
<text class="l" transform="translate(1122 330.84) scale(1.075 1)">6B10</text>
<text class="n" x="1099" y="344.54">0</text>
<text class="l" transform="translate(1122 344.54) scale(1.075 1)">4B12</text>
<text class="n" x="1099" y="358.25">0</text>
<text class="l" transform="translate(1122 358.25) scale(1.075 1)">5A8</text>
<text class="n" x="1099" y="371.95">0</text>
<text class="l" transform="translate(1122 371.95) scale(1.075 1)">4D12</text>
<text class="n" x="1099" y="385.65">0</text>
<text class="l" transform="translate(1122 385.65) scale(1.075 1)">4G12</text>
<text class="n" x="1099" y="399.35">0</text>
<text class="l" transform="translate(1122 399.35) scale(1.075 1)">3E3</text>
<text class="n" x="1099" y="413.06">0</text>
<text class="l" transform="translate(1122 413.06) scale(1.075 1)">3E9</text>
<text class="n" x="1099" y="426.76">0</text>
<text class="l" transform="translate(1122 426.76) scale(1.075 1)">5H9</text>
<text class="n" x="1099" y="440.46">0</text>
<text class="l" transform="translate(1122 440.46) scale(1.075 1)">2E2</text>
<text class="n" x="1099" y="454.17">0</text>
<text class="l" transform="translate(1122 454.17) scale(1.075 1)">5D10</text>
<text class="n" x="1099" y="467.87">0</text>
<text class="l" transform="translate(1122 467.87) scale(1.075 1)">2F12</text>
<text class="n" x="1099" y="481.57">0</text>
<text class="l r" transform="translate(1122 481.57) scale(1.075 1)">P2_4A7</text>
<text class="n" x="1099" y="495.27">0</text>
<text class="l r" transform="translate(1122 495.27) scale(1.075 1)">Lambda_4A7</text>
<text class="n" x="1099" y="508.98">0</text>
<text class="l r" transform="translate(1122 508.98) scale(1.075 1)">Lambda_2B8</text>
<text class="n" x="1099" y="522.68">1</text>
<text class="l" transform="translate(1122 522.68) scale(1.075 1)">6H10</text>
<text class="n" x="1099" y="536.38">1</text>
<text class="l" transform="translate(1122 536.38) scale(1.075 1)">5H11</text>
<text class="n" x="1099" y="550.09">1</text>
<text class="l" transform="translate(1122 550.09) scale(1.075 1)">2D10</text>
<text class="n" x="1099" y="563.79">1</text>
<text class="l" transform="translate(1122 563.79) scale(1.075 1)">2H7</text>
<text class="n" x="1099" y="577.49">1</text>
<text class="l" transform="translate(1122 577.49) scale(1.075 1)">3H4</text>
<text class="n" x="1099" y="591.2">1</text>
<text class="l" transform="translate(1122 591.2) scale(1.075 1)">4C6</text>
<text class="n" x="1099" y="604.9">1</text>
<text class="l" transform="translate(1122 604.9) scale(1.075 1)">2B12</text>
<text class="n" x="1099" y="618.6">1</text>
<text class="l" transform="translate(1122 618.6) scale(1.075 1)">6F5</text>
<text class="n" x="1099" y="632.3">1</text>
<text class="l" transform="translate(1122 632.3) scale(1.075 1)">3G12</text>
<text class="n" x="1099" y="646.01">1</text>
<text class="l" transform="translate(1122 646.01) scale(1.075 1)">5F4</text>
<text class="n" x="1099" y="659.71">1</text>
<text class="l r" transform="translate(1122 659.71) scale(1.075 1)">Lambda_1H12</text>
<text class="n" x="1099" y="673.41">1</text>
<text class="l" transform="translate(1122 673.41) scale(1.075 1)">3D6</text>
<text class="n" x="1099" y="687.12">1</text>
<text class="l" transform="translate(1122 687.12) scale(1.075 1)">3G6</text>
<text class="n" x="1099" y="700.82">1</text>
<text class="l" transform="translate(1122 700.82) scale(1.075 1)">4G3</text>
<text class="n" x="1099" y="714.52">1</text>
<text class="l" transform="translate(1122 714.52) scale(1.075 1)">2C1</text>
<text class="n" x="1099" y="728.23">1</text>
<text class="l" transform="translate(1122 728.23) scale(1.075 1)">3F8</text>
<text class="n" x="1099" y="741.93">1</text>
<text class="l" transform="translate(1122 741.93) scale(1.075 1)">5C8</text>
<text class="n" x="1099" y="755.63">1</text>
<text class="l" transform="translate(1122 755.63) scale(1.075 1)">2H9</text>
<text class="n" x="1099" y="769.34">1</text>
<text class="l r" transform="translate(1122 769.34) scale(1.075 1)">P2_4E6</text>
<text class="n" x="1099" y="783.04">1</text>
<text class="l r" transform="translate(1122 783.04) scale(1.075 1)">Lambda_2H10</text>
<text class="n" x="1099" y="796.74">1</text>
<text class="l r" transform="translate(1122 796.74) scale(1.075 1)">Mu_3F6</text>
<text class="n" x="1099" y="810.44">2</text>
<text class="l" transform="translate(1122 810.44) scale(1.075 1)">3G10</text>
<text class="n" x="1099" y="824.15">2</text>
<text class="l" transform="translate(1122 824.15) scale(1.075 1)">4E7</text>
<text class="n" x="1099" y="837.85">2</text>
<text class="l" transform="translate(1122 837.85) scale(1.075 1)">3A1</text>
<text class="n" x="1099" y="851.55">2</text>
<text class="l" transform="translate(1122 851.55) scale(1.075 1)">5B6</text>
<text class="n" x="1099" y="865.26">2</text>
<text class="l" transform="translate(1122 865.26) scale(1.075 1)">6F11</text>
<text class="n" x="1099" y="878.96">2</text>
<text class="l" transform="translate(1122 878.96) scale(1.075 1)">3H3</text>
<text class="n" x="1099" y="892.66">2</text>
<text class="l" transform="translate(1122 892.66) scale(1.075 1)">5G1</text>
<text class="n" x="1099" y="906.37">2</text>
<text class="l r" transform="translate(1122 906.37) scale(1.075 1)">P2_4C9</text>
<text class="n" x="1099" y="920.07">2</text>
<text class="l r" transform="translate(1122 920.07) scale(1.075 1)">Lambda_2G7</text>
<text class="n" x="1099" y="933.77">2</text>
<text class="l r" transform="translate(1122 933.77) scale(1.075 1)">Lambda_4C10</text>
<text class="n" x="1099" y="947.47">2</text>
<text class="l r" transform="translate(1122 947.47) scale(1.075 1)">Lambda_4B5</text>
<text class="n" x="1099" y="961.18">2</text>
<text class="l r" transform="translate(1122 961.18) scale(1.075 1)">Lambda_2E9</text>
<text class="n" x="1099" y="974.88">4</text>
<text class="l" transform="translate(1122 974.88) scale(1.075 1)">6D3</text>
<text class="n" x="1099" y="988.58">4</text>
<text class="l" transform="translate(1122 988.58) scale(1.075 1)">1E11</text>
<text class="n" x="1099" y="1002.29">4</text>
<text class="l" transform="translate(1122 1002.29) scale(1.075 1)">6A12</text>
<text class="n" x="1099" y="1015.99">4</text>
<text class="l" transform="translate(1122 1015.99) scale(1.075 1)">3A10</text>
<text class="n" x="1099" y="1029.69">4</text>
<text class="l r" transform="translate(1122 1029.69) scale(1.075 1)">P2_2H1</text>
<text class="n" x="1099" y="1043.39">4</text>
<text class="l r" transform="translate(1122 1043.39) scale(1.075 1)">Lambda_2G7</text>
<text class="n" x="1099" y="1057.1">4</text>
<text class="l r" transform="translate(1122 1057.1) scale(1.075 1)">mEp460_4F5</text>
<text class="n" x="1099" y="1070.8">5</text>
<text class="l" transform="translate(1122 1070.8) scale(1.075 1)">5A11</text>
<text class="n" x="1099" y="1084.5">5</text>
<text class="l" transform="translate(1122 1084.5) scale(1.075 1)">2A10</text>
<text class="n" x="1099" y="1098.21">5</text>
<text class="l r" transform="translate(1122 1098.21) scale(1.075 1)">P2_4B2</text>
<text class="n" x="1099" y="1111.91">6</text>
<text class="l" transform="translate(1122 1111.91) scale(1.075 1)">5A3</text>
<text class="n" x="1099" y="1125.61">6</text>
<text class="l" transform="translate(1122 1125.61) scale(1.075 1)">6C8</text>
<text class="n" x="1099" y="1139.32">6</text>
<text class="l" transform="translate(1122 1139.32) scale(1.075 1)">3B5</text>
<text class="n" x="1099" y="1153.02">7</text>
<text class="l r" transform="translate(1122 1153.02) scale(1.075 1)">P2_2H4</text>
<text class="n" x="1099" y="1166.72">8</text>
<text class="l r" transform="translate(1122 1166.72) scale(1.075 1)">P88_4B11</text>
</g>
<g>
<text class="s" transform="translate(101.77 1183.11) rotate(90) scale(.9 1)" y="4.3">35</text>
<text class="s" transform="translate(114.9 1183.11) rotate(90) scale(.9 1)" y="4.3">17</text>
<text class="s" transform="translate(128.04 1183.11) rotate(90) scale(.9 1)" y="4.3">17</text>
<text class="s" transform="translate(141.17 1183.11) rotate(90) scale(.9 1)" y="4.3">13</text>
<text class="s" transform="translate(154.31 1183.11) rotate(90) scale(.9 1)" y="4.3">20</text>
<text class="s" transform="translate(167.44 1183.11) rotate(90) scale(.9 1)" y="4.3">7</text>
<text class="s" transform="translate(180.58 1183.11) rotate(90) scale(.9 1)" y="4.3">12</text>
<text class="s" transform="translate(193.71 1183.11) rotate(90) scale(.9 1)" y="4.3">1</text>
<text class="s" transform="translate(206.85 1183.11) rotate(90) scale(.9 1)" y="4.3">0</text>
<text class="s" transform="translate(219.98 1183.11) rotate(90) scale(.9 1)" y="4.3">0</text>
<text class="s" transform="translate(233.12 1183.11) rotate(90) scale(.9 1)" y="4.3">3</text>
<text class="s" transform="translate(246.25 1183.11) rotate(90) scale(.9 1)" y="4.3">0</text>
<text class="s" transform="translate(259.39 1183.11) rotate(90) scale(.9 1)" y="4.3">0</text>
<text class="s" transform="translate(272.52 1183.11) rotate(90) scale(.9 1)" y="4.3">0</text>
<text class="s" transform="translate(285.66 1183.11) rotate(90) scale(.9 1)" y="4.3">0</text>
<text class="s" transform="translate(298.79 1183.11) rotate(90) scale(.9 1)" y="4.3">0</text>
<text class="s" transform="translate(311.93 1183.11) rotate(90) scale(.9 1)" y="4.3">0</text>
<text class="s" transform="translate(325.06 1183.11) rotate(90) scale(.9 1)" y="4.3">0</text>
<text class="s" transform="translate(338.2 1183.11) rotate(90) scale(.9 1)" y="4.3">0</text>
<text class="s" transform="translate(351.33 1183.11) rotate(90) scale(.9 1)" y="4.3">3</text>
<text class="s" transform="translate(364.47 1183.11) rotate(90) scale(.9 1)" y="4.3">0</text>
<text class="s" transform="translate(377.6 1183.11) rotate(90) scale(.9 1)" y="4.3">0</text>
<text class="s" transform="translate(390.74 1183.11) rotate(90) scale(.9 1)" y="4.3">1</text>
<text class="s" transform="translate(403.87 1183.11) rotate(90) scale(.9 1)" y="4.3">0</text>
<text class="s" transform="translate(417.01 1183.11) rotate(90) scale(.9 1)" y="4.3">0</text>
<text class="s" transform="translate(430.14 1183.11) rotate(90) scale(.9 1)" y="4.3">0</text>
<text class="s" transform="translate(443.28 1183.11) rotate(90) scale(.9 1)" y="4.3">3</text>
<text class="s" transform="translate(456.41 1183.11) rotate(90) scale(.9 1)" y="4.3">0</text>
<text class="s" transform="translate(469.55 1183.11) rotate(90) scale(.9 1)" y="4.3">0</text>
<text class="s" transform="translate(482.68 1183.11) rotate(90) scale(.9 1)" y="4.3">0</text>
<text class="s" transform="translate(495.82 1183.11) rotate(90) scale(.9 1)" y="4.3">1</text>
<text class="s" transform="translate(508.95 1183.11) rotate(90) scale(.9 1)" y="4.3">1</text>
<text class="s" transform="translate(522.09 1183.11) rotate(90) scale(.9 1)" y="4.3">0</text>
<text class="s" transform="translate(535.22 1183.11) rotate(90) scale(.9 1)" y="4.3">3</text>
<text class="s" transform="translate(548.36 1183.11) rotate(90) scale(.9 1)" y="4.3">0</text>
<text class="s" transform="translate(561.49 1183.11) rotate(90) scale(.9 1)" y="4.3">0</text>
<text class="s" transform="translate(574.63 1183.11) rotate(90) scale(.9 1)" y="4.3">0</text>
<text class="s" transform="translate(587.76 1183.11) rotate(90) scale(.9 1)" y="4.3">0</text>
<text class="s" transform="translate(600.9 1183.11) rotate(90) scale(.9 1)" y="4.3">0</text>
<text class="s" transform="translate(614.03 1183.11) rotate(90) scale(.9 1)" y="4.3">0</text>
<text class="s" transform="translate(627.17 1183.11) rotate(90) scale(.9 1)" y="4.3">1</text>
<text class="s" transform="translate(640.3 1183.11) rotate(90) scale(.9 1)" y="4.3">0</text>
<text class="s" transform="translate(653.44 1183.11) rotate(90) scale(.9 1)" y="4.3">0</text>
<text class="s" transform="translate(666.57 1183.11) rotate(90) scale(.9 1)" y="4.3">0</text>
<text class="s" transform="translate(679.71 1183.11) rotate(90) scale(.9 1)" y="4.3">0</text>
<text class="s" transform="translate(692.84 1183.11) rotate(90) scale(.9 1)" y="4.3">0</text>
<text class="s" transform="translate(705.98 1183.11) rotate(90) scale(.9 1)" y="4.3">0</text>
<text class="s" transform="translate(719.11 1183.11) rotate(90) scale(.9 1)" y="4.3">0</text>
<text class="s" transform="translate(732.25 1183.11) rotate(90) scale(.9 1)" y="4.3">0</text>
<text class="s" transform="translate(745.38 1183.11) rotate(90) scale(.9 1)" y="4.3">0</text>
<text class="s" transform="translate(758.52 1183.11) rotate(90) scale(.9 1)" y="4.3">1</text>
<text class="s" transform="translate(771.65 1183.11) rotate(90) scale(.9 1)" y="4.3">0</text>
<text class="s" transform="translate(784.79 1183.11) rotate(90) scale(.9 1)" y="4.3">0</text>
<text class="s" transform="translate(797.92 1183.11) rotate(90) scale(.9 1)" y="4.3">0</text>
<text class="s" transform="translate(811.06 1183.11) rotate(90) scale(.9 1)" y="4.3">0</text>
<text class="s" transform="translate(824.19 1183.11) rotate(90) scale(.9 1)" y="4.3">0</text>
<text class="s" transform="translate(837.33 1183.11) rotate(90) scale(.9 1)" y="4.3">0</text>
<text class="s" transform="translate(850.46 1183.11) rotate(90) scale(.9 1)" y="4.3">0</text>
<text class="s" transform="translate(863.6 1183.11) rotate(90) scale(.9 1)" y="4.3">0</text>
<text class="s" transform="translate(876.73 1183.11) rotate(90) scale(.9 1)" y="4.3">0</text>
<text class="s" transform="translate(889.87 1183.11) rotate(90) scale(.9 1)" y="4.3">0</text>
<text class="s" transform="translate(903 1183.11) rotate(90) scale(.9 1)" y="4.3">0</text>
<text class="s" transform="translate(916.14 1183.11) rotate(90) scale(.9 1)" y="4.3">0</text>
<text class="s" transform="translate(929.27 1183.11) rotate(90) scale(.9 1)" y="4.3">0</text>
<text class="s" transform="translate(942.41 1183.11) rotate(90) scale(.9 1)" y="4.3">0</text>
<text class="s" transform="translate(955.54 1183.11) rotate(90) scale(.9 1)" y="4.3">1</text>
<text class="s" transform="translate(968.68 1183.11) rotate(90) scale(.9 1)" y="4.3">0</text>
<text class="s" transform="translate(981.81 1183.11) rotate(90) scale(.9 1)" y="4.3">0</text>
<text class="s" transform="translate(994.95 1183.11) rotate(90) scale(.9 1)" y="4.3">0</text>
<text class="s" transform="translate(1008.08 1183.11) rotate(90) scale(.9 1)" y="4.3">0</text>
<text class="s" transform="translate(1021.22 1183.11) rotate(90) scale(.9 1)" y="4.3">0</text>
<text class="s" transform="translate(1034.35 1183.11) rotate(90) scale(.9 1)" y="4.3">0</text>
<text class="s" transform="translate(1047.49 1183.11) rotate(90) scale(.9 1)" y="4.3">0</text>
<text class="s" transform="translate(1060.62 1183.11) rotate(90) scale(.9 1)" y="4.3">0</text>
<text class="s" transform="translate(1073.76 1183.11) rotate(90) scale(.9 1)" y="4.3">0</text>
</g>
<text transform="translate(1083.8 1185.71) scale(1.02 1)" font-size="11.1">Strain sensitivity (%)</text>
<g>
<text class="n" x="1099" y="1206">0</text>
<text class="l" transform="translate(1122 1206) scale(1.075 1)">ev190</text>
<text class="n" x="1099" y="1219.7">0</text>
<text class="l" transform="translate(1122 1219.7) scale(1.075 1)">ev150</text>
<text class="n" x="1099" y="1233.4">0</text>
<text class="l" transform="translate(1122 1233.4) scale(1.075 1)">ev191</text>
<text class="n" x="1099" y="1247.1">0</text>
<text class="l" transform="translate(1122 1247.1) scale(1.075 1)">ev298</text>
<text class="n" x="1099" y="1260.8">0</text>
<text class="l" transform="translate(1122 1260.8) scale(1.075 1)">ev159</text>
<text class="n" x="1099" y="1274.5">0</text>
<text class="l" transform="translate(1122 1274.5) scale(1.075 1)">ev291</text>
<text class="n" x="1099" y="1288.2">0</text>
<text class="l" transform="translate(1122 1288.2) scale(1.075 1)">ev279</text>
<text class="n" x="1099" y="1301.9">0</text>
<text class="l" transform="translate(1122 1301.9) scale(1.075 1)">ev302</text>
<text class="n" x="1099" y="1315.6">0</text>
<text class="l" transform="translate(1122 1315.6) scale(1.075 1)">ev269</text>
<text class="n" x="1099" y="1329.3">0</text>
<text class="l" transform="translate(1122 1329.3) scale(1.075 1)">ev148</text>
<text class="n" x="1099" y="1343">0</text>
<text class="l" transform="translate(1122 1343) scale(1.075 1)">ev167</text>
<text class="n" x="1099" y="1356.7">0</text>
<text class="l" transform="translate(1122 1356.7) scale(1.075 1)">ev227</text>
<text class="n" x="1099" y="1370.4">0</text>
<text class="l" transform="translate(1122 1370.4) scale(1.075 1)">ev247</text>
<text class="n" x="1099" y="1384.1">0</text>
<text class="l" transform="translate(1122 1384.1) scale(1.075 1)">ev236</text>
<text class="n" x="1099" y="1397.8">0</text>
<text class="l" transform="translate(1122 1397.8) scale(1.075 1)">ev128</text>
<text class="n" x="1099" y="1411.5">0</text>
<text class="l" transform="translate(1122 1411.5) scale(1.075 1)">ev002</text>
<text class="n" x="1099" y="1425.2">0</text>
<text class="l" transform="translate(1122 1425.2) scale(1.075 1)">ev034</text>
<text class="n" x="1099" y="1438.9">0</text>
<text class="l" transform="translate(1122 1438.9) scale(1.075 1)">ev120</text>
<text class="n" x="1099" y="1452.6">0</text>
<text class="l r" transform="translate(1122 1452.6) scale(1.075 1)">Lambda_ev203</text>
<text class="n" x="1099" y="1466.3">0</text>
<text class="l r" transform="translate(1122 1466.3) scale(1.075 1)">ESSI2_ev040</text>
<text class="n" x="1099" y="1480">0</text>
<text class="l" transform="translate(1122 1480) scale(1.075 1)">ev130</text>
<text class="n" x="1099" y="1493.7">1</text>
<text class="l" transform="translate(1122 1493.7) scale(1.075 1)">ev193</text>
<text class="n" x="1099" y="1507.4">1</text>
<text class="l" transform="translate(1122 1507.4) scale(1.075 1)">ev153</text>
<text class="n" x="1099" y="1521.1">1</text>
<text class="l" transform="translate(1122 1521.1) scale(1.075 1)">ev201</text>
<text class="n" x="1099" y="1534.8">1</text>
<text class="l" transform="translate(1122 1534.8) scale(1.075 1)">ev210</text>
<text class="n" x="1099" y="1548.5">1</text>
<text class="l r" transform="translate(1122 1548.5) scale(1.075 1)">Lambda_ev245</text>
<text class="n" x="1099" y="1562.2">1</text>
<text class="l r" transform="translate(1122 1562.2) scale(1.075 1)">ESSI2_ev129</text>
<text class="n" x="1099" y="1575.9">1</text>
<text class="l r" transform="translate(1122 1575.9) scale(1.075 1)">Lambda_ev058</text>
<text class="n" x="1099" y="1589.6">1</text>
<text class="l r" transform="translate(1122 1589.6) scale(1.075 1)">Lambda_ev017</text>
<text class="n" x="1099" y="1603.3">1</text>
<text class="l" transform="translate(1122 1603.3) scale(1.075 1)">ev027</text>
<text class="n" x="1099" y="1617">1</text>
<text class="l r" transform="translate(1122 1617) scale(1.075 1)">Lambda_ev207</text>
<text class="n" x="1099" y="1630.7">1</text>
<text class="l r" transform="translate(1122 1630.7) scale(1.075 1)">mEp460_ev081</text>
<text class="n" x="1099" y="1644.4">1</text>
<text class="l r" transform="translate(1122 1644.4) scale(1.075 1)">Evi</text>
<text class="n" x="1099" y="1658.1">1</text>
<text class="l" transform="translate(1122 1658.1) scale(1.075 1)">ev086</text>
<text class="n" x="1099" y="1671.8">2</text>
<text class="l" transform="translate(1122 1671.8) scale(1.075 1)">ev143a</text>
<text class="n" x="1099" y="1685.5">2</text>
<text class="l" transform="translate(1122 1685.5) scale(1.075 1)">ev179</text>
<text class="n" x="1099" y="1699.2">2</text>
<text class="l" transform="translate(1122 1699.2) scale(1.075 1)">ev169</text>
<text class="n" x="1099" y="1712.9">2</text>
<text class="l" transform="translate(1122 1712.9) scale(1.075 1)">ev310</text>
<text class="n" x="1099" y="1726.6">2</text>
<text class="l" transform="translate(1122 1726.6) scale(1.075 1)">ev173</text>
<text class="n" x="1099" y="1740.3">2</text>
<text class="l" transform="translate(1122 1740.3) scale(1.075 1)">ev241</text>
<text class="n" x="1099" y="1754">2</text>
<text class="l" transform="translate(1122 1754) scale(1.075 1)">ev214</text>
<text class="n" x="1099" y="1767.7">2</text>
<text class="l r" transform="translate(1122 1767.7) scale(1.075 1)">Lambda_ev099</text>
<text class="n" x="1099" y="1781.4">2</text>
<text class="l" transform="translate(1122 1781.4) scale(1.075 1)">ev251</text>
<text class="n" x="1099" y="1795.1">2</text>
<text class="l r" transform="translate(1122 1795.1) scale(1.075 1)">ESSI2_ev015</text>
<text class="n" x="1099" y="1808.8">4</text>
<text class="l" transform="translate(1122 1808.8) scale(1.075 1)">ev192</text>
<text class="n" x="1099" y="1822.5">4</text>
<text class="l" transform="translate(1122 1822.5) scale(1.075 1)">ev141</text>
<text class="n" x="1099" y="1836.2">4</text>
<text class="l" transform="translate(1122 1836.2) scale(1.075 1)">ev171</text>
<text class="n" x="1099" y="1849.9">4</text>
<text class="l r" transform="translate(1122 1849.9) scale(1.075 1)">Fraca</text>
<text class="n" x="1099" y="1863.6">4</text>
<text class="l r" transform="translate(1122 1863.6) scale(1.075 1)">Lambda_ev243</text>
<text class="n" x="1099" y="1877.3">4</text>
<text class="l r" transform="translate(1122 1877.3) scale(1.075 1)">Lambda_ev110</text>
<text class="n" x="1099" y="1891">4</text>
<text class="l r" transform="translate(1122 1891) scale(1.075 1)">Lambda_ev087</text>
<text class="n" x="1099" y="1904.7">5</text>
<text class="l" transform="translate(1122 1904.7) scale(1.075 1)">ev314</text>
<text class="n" x="1099" y="1918.4">5</text>
<text class="l r" transform="translate(1122 1918.4) scale(1.075 1)">ESSI2_ev239</text>
<text class="n" x="1099" y="1932.1">6</text>
<text class="l" transform="translate(1122 1932.1) scale(1.075 1)">ev143b</text>
<text class="n" x="1099" y="1948.8">9</text>
<text class="l r" transform="translate(1122 1948.8) scale(1.075 1)">Lambda_ev066</text>
</g>
<g>
<text class="s" transform="translate(101.77 1968.9) rotate(90) scale(.9 1)" y="4.3">27</text>
<text class="s" transform="translate(114.9 1968.9) rotate(90) scale(.9 1)" y="4.3">33</text>
<text class="s" transform="translate(128.04 1968.9) rotate(90) scale(.9 1)" y="4.3">7</text>
<text class="s" transform="translate(141.17 1968.9) rotate(90) scale(.9 1)" y="4.3">2</text>
<text class="s" transform="translate(154.31 1968.9) rotate(90) scale(.9 1)" y="4.3">0</text>
<text class="s" transform="translate(167.44 1968.9) rotate(90) scale(.9 1)" y="4.3">9</text>
<text class="s" transform="translate(180.58 1968.9) rotate(90) scale(.9 1)" y="4.3">4</text>
<text class="s" transform="translate(193.71 1968.9) rotate(90) scale(.9 1)" y="4.3">2</text>
<text class="s" transform="translate(206.85 1968.9) rotate(90) scale(.9 1)" y="4.3">0</text>
<text class="s" transform="translate(219.98 1968.9) rotate(90) scale(.9 1)" y="4.3">0</text>
<text class="s" transform="translate(233.12 1968.9) rotate(90) scale(.9 1)" y="4.3">0</text>
<text class="s" transform="translate(246.25 1968.9) rotate(90) scale(.9 1)" y="4.3">2</text>
<text class="s" transform="translate(259.39 1968.9) rotate(90) scale(.9 1)" y="4.3">4</text>
<text class="s" transform="translate(272.52 1968.9) rotate(90) scale(.9 1)" y="4.3">0</text>
<text class="s" transform="translate(285.66 1968.9) rotate(90) scale(.9 1)" y="4.3">0</text>
<text class="s" transform="translate(298.79 1968.9) rotate(90) scale(.9 1)" y="4.3">0</text>
<text class="s" transform="translate(311.93 1968.9) rotate(90) scale(.9 1)" y="4.3">2</text>
<text class="s" transform="translate(325.06 1968.9) rotate(90) scale(.9 1)" y="4.3">0</text>
<text class="s" transform="translate(338.2 1968.9) rotate(90) scale(.9 1)" y="4.3">0</text>
<text class="s" transform="translate(351.33 1968.9) rotate(90) scale(.9 1)" y="4.3">2</text>
<text class="s" transform="translate(364.47 1968.9) rotate(90) scale(.9 1)" y="4.3">4</text>
<text class="s" transform="translate(377.6 1968.9) rotate(90) scale(.9 1)" y="4.3">0</text>
<text class="s" transform="translate(390.74 1968.9) rotate(90) scale(.9 1)" y="4.3">2</text>
<text class="s" transform="translate(403.87 1968.9) rotate(90) scale(.9 1)" y="4.3">2</text>
<text class="s" transform="translate(417.01 1968.9) rotate(90) scale(.9 1)" y="4.3">0</text>
<text class="s" transform="translate(430.14 1968.9) rotate(90) scale(.9 1)" y="4.3">0</text>
<text class="s" transform="translate(443.28 1968.9) rotate(90) scale(.9 1)" y="4.3">0</text>
<text class="s" transform="translate(456.41 1968.9) rotate(90) scale(.9 1)" y="4.3">0</text>
<text class="s" transform="translate(469.55 1968.9) rotate(90) scale(.9 1)" y="4.3">2</text>
<text class="s" transform="translate(482.68 1968.9) rotate(90) scale(.9 1)" y="4.3">0</text>
<text class="s" transform="translate(495.82 1968.9) rotate(90) scale(.9 1)" y="4.3">0</text>
<text class="s" transform="translate(508.95 1968.9) rotate(90) scale(.9 1)" y="4.3">2</text>
<text class="s" transform="translate(522.09 1968.9) rotate(90) scale(.9 1)" y="4.3">0</text>
<text class="s" transform="translate(535.22 1968.9) rotate(90) scale(.9 1)" y="4.3">0</text>
<text class="s" transform="translate(548.36 1968.9) rotate(90) scale(.9 1)" y="4.3">7</text>
<text class="s" transform="translate(561.49 1968.9) rotate(90) scale(.9 1)" y="4.3">0</text>
<text class="s" transform="translate(574.63 1968.9) rotate(90) scale(.9 1)" y="4.3">0</text>
<text class="s" transform="translate(587.76 1968.9) rotate(90) scale(.9 1)" y="4.3">4</text>
<text class="s" transform="translate(600.9 1968.9) rotate(90) scale(.9 1)" y="4.3">2</text>
<text class="s" transform="translate(614.03 1968.9) rotate(90) scale(.9 1)" y="4.3">2</text>
<text class="s" transform="translate(627.17 1968.9) rotate(90) scale(.9 1)" y="4.3">0</text>
<text class="s" transform="translate(640.3 1968.9) rotate(90) scale(.9 1)" y="4.3">0</text>
<text class="s" transform="translate(653.44 1968.9) rotate(90) scale(.9 1)" y="4.3">2</text>
<text class="s" transform="translate(666.57 1968.9) rotate(90) scale(.9 1)" y="4.3">0</text>
<text class="s" transform="translate(679.71 1968.9) rotate(90) scale(.9 1)" y="4.3">0</text>
<text class="s" transform="translate(692.84 1968.9) rotate(90) scale(.9 1)" y="4.3">0</text>
<text class="s" transform="translate(705.98 1968.9) rotate(90) scale(.9 1)" y="4.3">0</text>
<text class="s" transform="translate(719.11 1968.9) rotate(90) scale(.9 1)" y="4.3">0</text>
<text class="s" transform="translate(732.25 1968.9) rotate(90) scale(.9 1)" y="4.3">2</text>
<text class="s" transform="translate(745.38 1968.9) rotate(90) scale(.9 1)" y="4.3">0</text>
<text class="s" transform="translate(758.52 1968.9) rotate(90) scale(.9 1)" y="4.3">0</text>
<text class="s" transform="translate(771.65 1968.9) rotate(90) scale(.9 1)" y="4.3">0</text>
<text class="s" transform="translate(784.79 1968.9) rotate(90) scale(.9 1)" y="4.3">0</text>
<text class="s" transform="translate(797.92 1968.9) rotate(90) scale(.9 1)" y="4.3">0</text>
<text class="s" transform="translate(811.06 1968.9) rotate(90) scale(.9 1)" y="4.3">0</text>
<text class="s" transform="translate(824.19 1968.9) rotate(90) scale(.9 1)" y="4.3">0</text>
<text class="s" transform="translate(837.33 1968.9) rotate(90) scale(.9 1)" y="4.3">0</text>
<text class="s" transform="translate(850.46 1968.9) rotate(90) scale(.9 1)" y="4.3">0</text>
<text class="s" transform="translate(863.6 1968.9) rotate(90) scale(.9 1)" y="4.3">0</text>
<text class="s" transform="translate(876.73 1968.9) rotate(90) scale(.9 1)" y="4.3">0</text>
<text class="s" transform="translate(889.87 1968.9) rotate(90) scale(.9 1)" y="4.3">5</text>
<text class="s" transform="translate(903 1968.9) rotate(90) scale(.9 1)" y="4.3">2</text>
<text class="s" transform="translate(916.14 1968.9) rotate(90) scale(.9 1)" y="4.3">0</text>
<text class="s" transform="translate(929.27 1968.9) rotate(90) scale(.9 1)" y="4.3">0</text>
<text class="s" transform="translate(942.41 1968.9) rotate(90) scale(.9 1)" y="4.3">0</text>
<text class="s" transform="translate(955.54 1968.9) rotate(90) scale(.9 1)" y="4.3">0</text>
<text class="s" transform="translate(968.68 1968.9) rotate(90) scale(.9 1)" y="4.3">0</text>
<text class="s" transform="translate(981.81 1968.9) rotate(90) scale(.9 1)" y="4.3">0</text>
<text class="s" transform="translate(994.95 1968.9) rotate(90) scale(.9 1)" y="4.3">0</text>
<text class="s" transform="translate(1008.08 1968.9) rotate(90) scale(.9 1)" y="4.3">0</text>
<text class="s" transform="translate(1021.22 1968.9) rotate(90) scale(.9 1)" y="4.3">0</text>
<text class="s" transform="translate(1034.35 1968.9) rotate(90) scale(.9 1)" y="4.3">0</text>
<text class="s" transform="translate(1047.49 1968.9) rotate(90) scale(.9 1)" y="4.3">0</text>
<text class="s" transform="translate(1060.62 1968.9) rotate(90) scale(.9 1)" y="4.3">0</text>
<text class="s" transform="translate(1073.76 1968.9) rotate(90) scale(.9 1)" y="4.3">0</text>
</g>
<text transform="translate(1083.8 1971.5) scale(1.02 1)" font-size="11.1">Strain sensitivity (%)</text>
<g>
<text class="n" x="1099" y="1990.7">11</text>
<text class="l r" transform="translate(1122 1990.7) scale(1.075 1)">VpaE1_ev035</text>
<text class="n" x="1099" y="2004.97">12</text>
<text class="l r" transform="translate(1122 2004.97) scale(1.075 1)">Gluttony_ev152</text>
<text class="n" x="1099" y="2019.24">12</text>
<text class="l r" transform="translate(1122 2019.24) scale(1.075 1)">Stevie_ev116</text>
<text class="n" x="1099" y="2033.51">13</text>
<text class="l r" transform="translate(1122 2033.51) scale(1.075 1)">T4_ev240</text>
<text class="n" x="1099" y="2047.78">15</text>
<text class="l" transform="translate(1122 2047.78) scale(1.075 1)">ev183</text>
<text class="n" x="1099" y="2062.05">15</text>
<text class="l r" transform="translate(1122 2062.05) scale(1.075 1)">VpaE1_ev078</text>
<text class="n" x="1099" y="2076.32">16</text>
<text class="l" transform="translate(1122 2076.32) scale(1.075 1)">ev169</text>
<text class="n" x="1099" y="2090.59">18</text>
<text class="l" transform="translate(1122 2090.59) scale(1.075 1)">ev177</text>
<text class="n" x="1099" y="2104.86">24</text>
<text class="l r" transform="translate(1122 2104.86) scale(1.075 1)">rv5_ev168</text>
<text class="n" x="1099" y="2119.13">27</text>
<text class="l r" transform="translate(1122 2119.13) scale(1.075 1)">T5_ev219</text>
<text class="n" x="1099" y="2133.4">29</text>
<text class="l r" transform="translate(1122 2133.4) scale(1.075 1)">VpaE1_ev108</text>
<text class="n" x="1099" y="2147.67">38</text>
<text class="l" transform="translate(1122 2147.67) scale(1.075 1)">ev220</text>
<text class="n" x="1099" y="2161.94">40</text>
<text class="l r" transform="translate(1122 2161.94) scale(1.075 1)">T5_ev212</text>
<text class="n" x="1099" y="2176.21">40</text>
<text class="l" transform="translate(1122 2176.21) scale(1.075 1)">ev232</text>
<text class="n" x="1099" y="2190.48">42</text>
<text class="l r" transform="translate(1122 2190.48) scale(1.075 1)">T4_ev151</text>
<text class="n" x="1099" y="2204.75">42</text>
<text class="l r" transform="translate(1122 2204.75) scale(1.075 1)">rv5_ev146</text>
<text class="n" x="1099" y="2219.02">60</text>
<text class="l r" transform="translate(1122 2219.02) scale(1.075 1)">rv5_ev158</text>
<text class="n" x="1099" y="2233.29">62</text>
<text class="l r" transform="translate(1122 2233.29) scale(1.075 1)">phAPEC8_ev052</text>
<text class="n" x="1099" y="2247.56">66</text>
<text class="l r" transform="translate(1122 2247.56) scale(1.075 1)">rv5_ev147</text>
<text class="n" x="1099" y="2261.83">68</text>
<text class="l r" transform="translate(1122 2261.83) scale(1.075 1)">rv5_ev156</text>
</g>
<g>
<text class="s" transform="translate(101.77 2279.3) rotate(90) scale(.9 1)" y="4.3">65</text>
<text class="s" transform="translate(114.9 2279.3) rotate(90) scale(.9 1)" y="4.3">75</text>
<text class="s" transform="translate(128.04 2279.3) rotate(90) scale(.9 1)" y="4.3">55</text>
<text class="s" transform="translate(141.17 2279.3) rotate(90) scale(.9 1)" y="4.3">70</text>
<text class="s" transform="translate(154.31 2279.3) rotate(90) scale(.9 1)" y="4.3">45</text>
<text class="s" transform="translate(167.44 2279.3) rotate(90) scale(.9 1)" y="4.3">60</text>
<text class="s" transform="translate(180.58 2279.3) rotate(90) scale(.9 1)" y="4.3">60</text>
<text class="s" transform="translate(193.71 2279.3) rotate(90) scale(.9 1)" y="4.3">80</text>
<text class="s" transform="translate(206.85 2279.3) rotate(90) scale(.9 1)" y="4.3">70</text>
<text class="s" transform="translate(219.98 2279.3) rotate(90) scale(.9 1)" y="4.3">60</text>
<text class="s" transform="translate(233.12 2279.3) rotate(90) scale(.9 1)" y="4.3">55</text>
<text class="s" transform="translate(246.25 2279.3) rotate(90) scale(.9 1)" y="4.3">30</text>
<text class="s" transform="translate(259.39 2279.3) rotate(90) scale(.9 1)" y="4.3">45</text>
<text class="s" transform="translate(272.52 2279.3) rotate(90) scale(.9 1)" y="4.3">50</text>
<text class="s" transform="translate(285.66 2279.3) rotate(90) scale(.9 1)" y="4.3">60</text>
<text class="s" transform="translate(298.79 2279.3) rotate(90) scale(.9 1)" y="4.3">55</text>
<text class="s" transform="translate(311.93 2279.3) rotate(90) scale(.9 1)" y="4.3">50</text>
<text class="s" transform="translate(325.06 2279.3) rotate(90) scale(.9 1)" y="4.3">50</text>
<text class="s" transform="translate(338.2 2279.3) rotate(90) scale(.9 1)" y="4.3">45</text>
<text class="s" transform="translate(351.33 2279.3) rotate(90) scale(.9 1)" y="4.3">50</text>
<text class="s" transform="translate(364.47 2279.3) rotate(90) scale(.9 1)" y="4.3">45</text>
<text class="s" transform="translate(377.6 2279.3) rotate(90) scale(.9 1)" y="4.3">50</text>
<text class="s" transform="translate(390.74 2279.3) rotate(90) scale(.9 1)" y="4.3">35</text>
<text class="s" transform="translate(403.87 2279.3) rotate(90) scale(.9 1)" y="4.3">40</text>
<text class="s" transform="translate(417.01 2279.3) rotate(90) scale(.9 1)" y="4.3">45</text>
<text class="s" transform="translate(430.14 2279.3) rotate(90) scale(.9 1)" y="4.3">40</text>
<text class="s" transform="translate(443.28 2279.3) rotate(90) scale(.9 1)" y="4.3">30</text>
<text class="s" transform="translate(456.41 2279.3) rotate(90) scale(.9 1)" y="4.3">45</text>
<text class="s" transform="translate(469.55 2279.3) rotate(90) scale(.9 1)" y="4.3">40</text>
<text class="s" transform="translate(482.68 2279.3) rotate(90) scale(.9 1)" y="4.3">25</text>
<text class="s" transform="translate(495.82 2279.3) rotate(90) scale(.9 1)" y="4.3">35</text>
<text class="s" transform="translate(508.95 2279.3) rotate(90) scale(.9 1)" y="4.3">35</text>
<text class="s" transform="translate(522.09 2279.3) rotate(90) scale(.9 1)" y="4.3">45</text>
<text class="s" transform="translate(535.22 2279.3) rotate(90) scale(.9 1)" y="4.3">30</text>
<text class="s" transform="translate(548.36 2279.3) rotate(90) scale(.9 1)" y="4.3">20</text>
<text class="s" transform="translate(561.49 2279.3) rotate(90) scale(.9 1)" y="4.3">40</text>
<text class="s" transform="translate(574.63 2279.3) rotate(90) scale(.9 1)" y="4.3">35</text>
<text class="s" transform="translate(587.76 2279.3) rotate(90) scale(.9 1)" y="4.3">25</text>
<text class="s" transform="translate(600.9 2279.3) rotate(90) scale(.9 1)" y="4.3">25</text>
<text class="s" transform="translate(614.03 2279.3) rotate(90) scale(.9 1)" y="4.3">30</text>
<text class="s" transform="translate(627.17 2279.3) rotate(90) scale(.9 1)" y="4.3">25</text>
<text class="s" transform="translate(640.3 2279.3) rotate(90) scale(.9 1)" y="4.3">30</text>
<text class="s" transform="translate(653.44 2279.3) rotate(90) scale(.9 1)" y="4.3">30</text>
<text class="s" transform="translate(666.57 2279.3) rotate(90) scale(.9 1)" y="4.3">30</text>
<text class="s" transform="translate(679.71 2279.3) rotate(90) scale(.9 1)" y="4.3">30</text>
<text class="s" transform="translate(692.84 2279.3) rotate(90) scale(.9 1)" y="4.3">30</text>
<text class="s" transform="translate(705.98 2279.3) rotate(90) scale(.9 1)" y="4.3">25</text>
<text class="s" transform="translate(719.11 2279.3) rotate(90) scale(.9 1)" y="4.3">25</text>
<text class="s" transform="translate(732.25 2279.3) rotate(90) scale(.9 1)" y="4.3">20</text>
<text class="s" transform="translate(745.38 2279.3) rotate(90) scale(.9 1)" y="4.3">20</text>
<text class="s" transform="translate(758.52 2279.3) rotate(90) scale(.9 1)" y="4.3">30</text>
<text class="s" transform="translate(771.65 2279.3) rotate(90) scale(.9 1)" y="4.3">30</text>
<text class="s" transform="translate(784.79 2279.3) rotate(90) scale(.9 1)" y="4.3">20</text>
<text class="s" transform="translate(797.92 2279.3) rotate(90) scale(.9 1)" y="4.3">30</text>
<text class="s" transform="translate(811.06 2279.3) rotate(90) scale(.9 1)" y="4.3">25</text>
<text class="s" transform="translate(824.19 2279.3) rotate(90) scale(.9 1)" y="4.3">20</text>
<text class="s" transform="translate(837.33 2279.3) rotate(90) scale(.9 1)" y="4.3">25</text>
<text class="s" transform="translate(850.46 2279.3) rotate(90) scale(.9 1)" y="4.3">15</text>
<text class="s" transform="translate(863.6 2279.3) rotate(90) scale(.9 1)" y="4.3">20</text>
<text class="s" transform="translate(876.73 2279.3) rotate(90) scale(.9 1)" y="4.3">20</text>
<text class="s" transform="translate(889.87 2279.3) rotate(90) scale(.9 1)" y="4.3">5</text>
<text class="s" transform="translate(903 2279.3) rotate(90) scale(.9 1)" y="4.3">10</text>
<text class="s" transform="translate(916.14 2279.3) rotate(90) scale(.9 1)" y="4.3">15</text>
<text class="s" transform="translate(929.27 2279.3) rotate(90) scale(.9 1)" y="4.3">10</text>
<text class="s" transform="translate(942.41 2279.3) rotate(90) scale(.9 1)" y="4.3">5</text>
<text class="s" transform="translate(955.54 2279.3) rotate(90) scale(.9 1)" y="4.3">5</text>
<text class="s" transform="translate(968.68 2279.3) rotate(90) scale(.9 1)" y="4.3">10</text>
<text class="s" transform="translate(981.81 2279.3) rotate(90) scale(.9 1)" y="4.3">10</text>
<text class="s" transform="translate(994.95 2279.3) rotate(90) scale(.9 1)" y="4.3">10</text>
<text class="s" transform="translate(1008.08 2279.3) rotate(90) scale(.9 1)" y="4.3">5</text>
<text class="s" transform="translate(1021.22 2279.3) rotate(90) scale(.9 1)" y="4.3">0</text>
<text class="s" transform="translate(1034.35 2279.3) rotate(90) scale(.9 1)" y="4.3">0</text>
<text class="s" transform="translate(1047.49 2279.3) rotate(90) scale(.9 1)" y="4.3">0</text>
<text class="s" transform="translate(1060.62 2279.3) rotate(90) scale(.9 1)" y="4.3">0</text>
<text class="s" transform="translate(1073.76 2279.3) rotate(90) scale(.9 1)" y="4.3">0</text>
</g>
<text transform="translate(1083.8 2281.9) scale(1.02 1)" font-size="11.1">Strain sensitivity (%)</text>
<g>
<text class="n" x="1099" y="2301.9">0</text>
<text class="l" transform="translate(1122 2301.9) scale(1.075 1)">Lambda vir</text>
<text class="n" x="1099" y="2315.58">0</text>
<text class="l" transform="translate(1122 2315.58) scale(1.075 1)">Ω8</text>
<text class="n" x="1099" y="2329.26">0</text>
<text class="l" transform="translate(1122 2329.26) scale(1.075 1)">MS2</text>
<text class="n" x="1099" y="2342.94">1</text>
<text class="l" transform="translate(1122 2342.94) scale(1.075 1)">121Q</text>
<text class="n" x="1099" y="2356.62">1</text>
<text class="l" transform="translate(1122 2356.62) scale(1.075 1)">I2-2</text>
<text class="n" x="1099" y="2370.3">2</text>
<text class="l" transform="translate(1122 2370.3) scale(1.075 1)">phiX174</text>
<text class="n" x="1099" y="2383.98">2</text>
<text class="l" transform="translate(1122 2383.98) scale(1.075 1)">PR772</text>
<text class="n" x="1099" y="2397.66">7</text>
<text class="l" transform="translate(1122 2397.66) scale(1.075 1)">T1</text>
<text class="n" x="1099" y="2411.34">8</text>
<text class="l" transform="translate(1122 2411.34) scale(1.075 1)">T3</text>
<text class="n" x="1099" y="2425.02">8</text>
<text class="l" transform="translate(1122 2425.02) scale(1.075 1)">T4</text>
<text class="n" x="1099" y="2438.7">8</text>
<text class="l" transform="translate(1122 2438.7) scale(1.075 1)">T5</text>
<text class="n" x="1099" y="2452.38">8</text>
<text class="l" transform="translate(1122 2452.38) scale(1.075 1)">T7</text>
<text class="n" x="1099" y="2466.06">17</text>
<text class="l" transform="translate(1122 2466.06) scale(1.075 1)">1</text>
<text class="n" x="1099" y="2479.74">30</text>
<text class="l" transform="translate(1122 2479.74) scale(1.075 1)">4</text>
<text class="n" x="1099" y="2493.42">30</text>
<text class="l" transform="translate(1122 2493.42) scale(1.075 1)">8</text>
<text class="n" x="1099" y="2507.1">37</text>
<text class="l" transform="translate(1122 2507.1) scale(1.075 1)">N4</text>
</g>
<g>
<text class="s" transform="translate(101.77 2524.07) rotate(90) scale(.9 1)" y="4.3">56</text>
<text class="s" transform="translate(114.9 2524.07) rotate(90) scale(.9 1)" y="4.3">44</text>
<text class="s" transform="translate(128.04 2524.07) rotate(90) scale(.9 1)" y="4.3">56</text>
<text class="s" transform="translate(141.17 2524.07) rotate(90) scale(.9 1)" y="4.3">50</text>
<text class="s" transform="translate(154.31 2524.07) rotate(90) scale(.9 1)" y="4.3">19</text>
<text class="s" transform="translate(167.44 2524.07) rotate(90) scale(.9 1)" y="4.3">13</text>
<text class="s" transform="translate(180.58 2524.07) rotate(90) scale(.9 1)" y="4.3">0</text>
<text class="s" transform="translate(193.71 2524.07) rotate(90) scale(.9 1)" y="4.3">19</text>
<text class="s" transform="translate(206.85 2524.07) rotate(90) scale(.9 1)" y="4.3">25</text>
<text class="s" transform="translate(219.98 2524.07) rotate(90) scale(.9 1)" y="4.3">31</text>
<text class="s" transform="translate(233.12 2524.07) rotate(90) scale(.9 1)" y="4.3">25</text>
<text class="s" transform="translate(246.25 2524.07) rotate(90) scale(.9 1)" y="4.3">56</text>
<text class="s" transform="translate(259.39 2524.07) rotate(90) scale(.9 1)" y="4.3">19</text>
<text class="s" transform="translate(272.52 2524.07) rotate(90) scale(.9 1)" y="4.3">25</text>
<text class="s" transform="translate(285.66 2524.07) rotate(90) scale(.9 1)" y="4.3">6</text>
<text class="s" transform="translate(298.79 2524.07) rotate(90) scale(.9 1)" y="4.3">6</text>
<text class="s" transform="translate(311.93 2524.07) rotate(90) scale(.9 1)" y="4.3">13</text>
<text class="s" transform="translate(325.06 2524.07) rotate(90) scale(.9 1)" y="4.3">19</text>
<text class="s" transform="translate(338.2 2524.07) rotate(90) scale(.9 1)" y="4.3">25</text>
<text class="s" transform="translate(351.33 2524.07) rotate(90) scale(.9 1)" y="4.3">0</text>
<text class="s" transform="translate(364.47 2524.07) rotate(90) scale(.9 1)" y="4.3">0</text>
<text class="s" transform="translate(377.6 2524.07) rotate(90) scale(.9 1)" y="4.3">13</text>
<text class="s" transform="translate(390.74 2524.07) rotate(90) scale(.9 1)" y="4.3">13</text>
<text class="s" transform="translate(403.87 2524.07) rotate(90) scale(.9 1)" y="4.3">13</text>
<text class="s" transform="translate(417.01 2524.07) rotate(90) scale(.9 1)" y="4.3">13</text>
<text class="s" transform="translate(430.14 2524.07) rotate(90) scale(.9 1)" y="4.3">19</text>
<text class="s" transform="translate(443.28 2524.07) rotate(90) scale(.9 1)" y="4.3">19</text>
<text class="s" transform="translate(456.41 2524.07) rotate(90) scale(.9 1)" y="4.3">0</text>
<text class="s" transform="translate(469.55 2524.07) rotate(90) scale(.9 1)" y="4.3">6</text>
<text class="s" transform="translate(482.68 2524.07) rotate(90) scale(.9 1)" y="4.3">31</text>
<text class="s" transform="translate(495.82 2524.07) rotate(90) scale(.9 1)" y="4.3">6</text>
<text class="s" transform="translate(508.95 2524.07) rotate(90) scale(.9 1)" y="4.3">6</text>
<text class="s" transform="translate(522.09 2524.07) rotate(90) scale(.9 1)" y="4.3">0</text>
<text class="s" transform="translate(535.22 2524.07) rotate(90) scale(.9 1)" y="4.3">6</text>
<text class="s" transform="translate(548.36 2524.07) rotate(90) scale(.9 1)" y="4.3">0</text>
<text class="s" transform="translate(561.49 2524.07) rotate(90) scale(.9 1)" y="4.3">0</text>
<text class="s" transform="translate(574.63 2524.07) rotate(90) scale(.9 1)" y="4.3">0</text>
<text class="s" transform="translate(587.76 2524.07) rotate(90) scale(.9 1)" y="4.3">0</text>
<text class="s" transform="translate(600.9 2524.07) rotate(90) scale(.9 1)" y="4.3">6</text>
<text class="s" transform="translate(614.03 2524.07) rotate(90) scale(.9 1)" y="4.3">6</text>
<text class="s" transform="translate(627.17 2524.07) rotate(90) scale(.9 1)" y="4.3">13</text>
<text class="s" transform="translate(640.3 2524.07) rotate(90) scale(.9 1)" y="4.3">0</text>
<text class="s" transform="translate(653.44 2524.07) rotate(90) scale(.9 1)" y="4.3">0</text>
<text class="s" transform="translate(666.57 2524.07) rotate(90) scale(.9 1)" y="4.3">6</text>
<text class="s" transform="translate(679.71 2524.07) rotate(90) scale(.9 1)" y="4.3">6</text>
<text class="s" transform="translate(692.84 2524.07) rotate(90) scale(.9 1)" y="4.3">6</text>
<text class="s" transform="translate(705.98 2524.07) rotate(90) scale(.9 1)" y="4.3">13</text>
<text class="s" transform="translate(719.11 2524.07) rotate(90) scale(.9 1)" y="4.3">13</text>
<text class="s" transform="translate(732.25 2524.07) rotate(90) scale(.9 1)" y="4.3">13</text>
<text class="s" transform="translate(745.38 2524.07) rotate(90) scale(.9 1)" y="4.3">19</text>
<text class="s" transform="translate(758.52 2524.07) rotate(90) scale(.9 1)" y="4.3">0</text>
<text class="s" transform="translate(771.65 2524.07) rotate(90) scale(.9 1)" y="4.3">0</text>
<text class="s" transform="translate(784.79 2524.07) rotate(90) scale(.9 1)" y="4.3">13</text>
<text class="s" transform="translate(797.92 2524.07) rotate(90) scale(.9 1)" y="4.3">0</text>
<text class="s" transform="translate(811.06 2524.07) rotate(90) scale(.9 1)" y="4.3">6</text>
<text class="s" transform="translate(824.19 2524.07) rotate(90) scale(.9 1)" y="4.3">13</text>
<text class="s" transform="translate(837.33 2524.07) rotate(90) scale(.9 1)" y="4.3">0</text>
<text class="s" transform="translate(850.46 2524.07) rotate(90) scale(.9 1)" y="4.3">0</text>
<text class="s" transform="translate(863.6 2524.07) rotate(90) scale(.9 1)" y="4.3">0</text>
<text class="s" transform="translate(876.73 2524.07) rotate(90) scale(.9 1)" y="4.3">0</text>
<text class="s" transform="translate(889.87 2524.07) rotate(90) scale(.9 1)" y="4.3">0</text>
<text class="s" transform="translate(903 2524.07) rotate(90) scale(.9 1)" y="4.3">0</text>
<text class="s" transform="translate(916.14 2524.07) rotate(90) scale(.9 1)" y="4.3">0</text>
<text class="s" transform="translate(929.27 2524.07) rotate(90) scale(.9 1)" y="4.3">6</text>
<text class="s" transform="translate(942.41 2524.07) rotate(90) scale(.9 1)" y="4.3">13</text>
<text class="s" transform="translate(955.54 2524.07) rotate(90) scale(.9 1)" y="4.3">6</text>
<text class="s" transform="translate(968.68 2524.07) rotate(90) scale(.9 1)" y="4.3">0</text>
<text class="s" transform="translate(981.81 2524.07) rotate(90) scale(.9 1)" y="4.3">0</text>
<text class="s" transform="translate(994.95 2524.07) rotate(90) scale(.9 1)" y="4.3">0</text>
<text class="s" transform="translate(1008.08 2524.07) rotate(90) scale(.9 1)" y="4.3">0</text>
<text class="s" transform="translate(1021.22 2524.07) rotate(90) scale(.9 1)" y="4.3">0</text>
<text class="s" transform="translate(1034.35 2524.07) rotate(90) scale(.9 1)" y="4.3">0</text>
<text class="s" transform="translate(1047.49 2524.07) rotate(90) scale(.9 1)" y="4.3">0</text>
<text class="s" transform="translate(1060.62 2524.07) rotate(90) scale(.9 1)" y="4.3">0</text>
<text class="s" transform="translate(1073.76 2524.07) rotate(90) scale(.9 1)" y="4.3">0</text>
</g>
<text transform="translate(1083.8 2526.67) scale(1.02 1)" font-size="11.1">Strain sensitivity (%)</text>
<text class="B" transform="translate(1238 189.9) scale(.95 1.075)" font-size="42">a</text>
<text class="B" x="1240.2" y="1243">b</text>
<text class="B" transform="translate(1238.6 2332.8) scale(.98 1.06)">c</text>
<text class="v" transform="translate(1257 791.5) rotate(90) scale(0.91 1)" y="5.4" style="font-size:15px">75 temperate phages from natural <tspan font-style="italic">E. coli</tspan> strains (18 sequenced)</text>
<text class="v" transform="translate(1225.2 1639.5) rotate(90) scale(0.9 1)" y="5.4" style="font-size:15px">55 temperate phages (17 sequenced)</text>
<text class="v" transform="translate(1257 1840.7) rotate(90) scale(0.91 1)" y="5.4" style="font-size:15px">75 phages isolated in viromes</text>
<text class="v" transform="translate(1228.3 2136.6) rotate(90) scale(0.91 1)" y="5.4" style="font-size:15px">20 virulent phages (15 sequenced)</text>
<text class="v" transform="translate(1256.25 2441) rotate(90) scale(1.02 1)" y="4.9" style="font-size:13.6px">F. d’Hérelle collection</text>
<text class="v" transform="translate(1233.9 2447.9) rotate(90) scale(0.99 1)" y="4.97" style="font-size:13.8px">16 reference virulent</text>
<text class="v" transform="translate(1219 2448) rotate(90) scale(0.92 1)" y="5.4" style="font-size:15px">phages</text>
</svg></body></html>
